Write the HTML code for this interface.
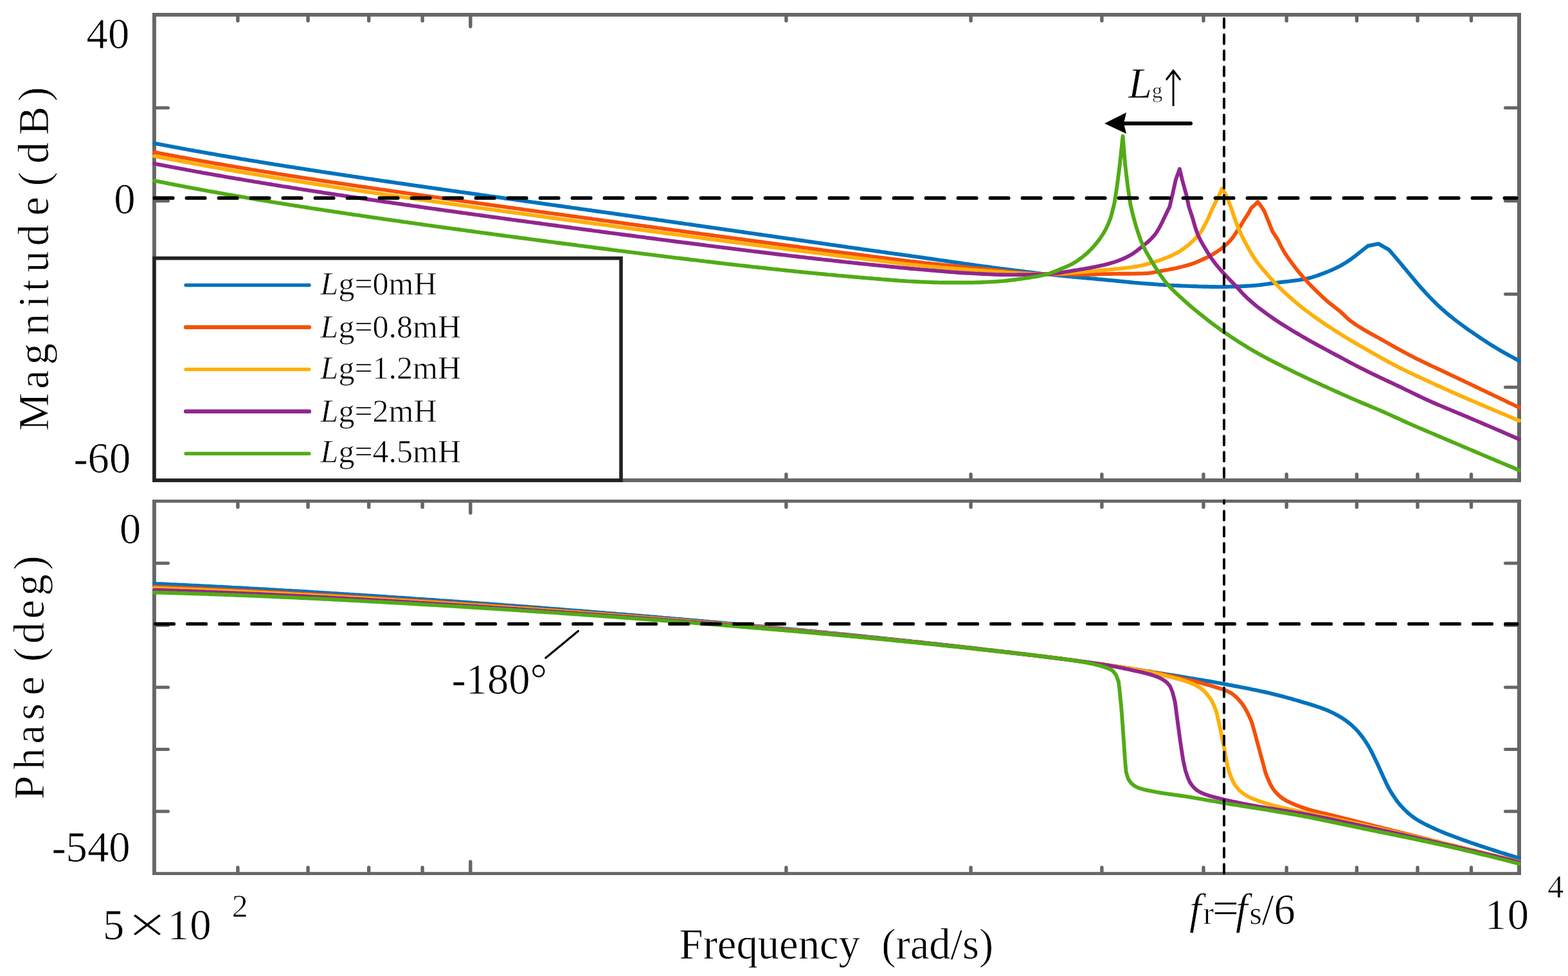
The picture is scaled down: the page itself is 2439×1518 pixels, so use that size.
<!DOCTYPE html>
<html lang="en"><head><meta charset="utf-8"><title>Bode diagram</title>
<style>html,body{margin:0;padding:0;background:#fff}body{width:2439px;height:1518px;overflow:hidden}svg{display:block}text{font-family:"Liberation Serif",serif;fill:#000;stroke:#fff;stroke-width:.7px}.i{font-style:italic}.lt{font-family:"DejaVu Sans Light","DejaVu Sans",sans-serif;font-weight:200;stroke:none}</style></head><body>
<svg xmlns="http://www.w3.org/2000/svg" width="2439" height="1518" viewBox="0 0 2439 1518">
<rect x="0" y="0" width="2439" height="1518" fill="#fff"/>
<g fill="none" stroke="#666666" stroke-linecap="round"><path stroke-width="5.4" d="M369.9 22.9V32.2M369.9 747.0V737.7M479.1 22.9V32.2M479.1 747.0V737.7M573.7 22.9V32.2M573.7 747.0V737.7M657.1 22.9V32.2M657.1 747.0V737.7M731.8 22.9V41.2M731.8 747.0V728.7M1222.9 22.9V32.2M1222.9 747.0V737.7M1510.1 22.9V32.2M1510.1 747.0V737.7M1713.9 22.9V32.2M1713.9 747.0V737.7M1872.0 22.9V32.2M1872.0 747.0V737.7M2001.2 22.9V32.2M2001.2 747.0V737.7M2110.4 22.9V32.2M2110.4 747.0V737.7M2205.0 22.9V32.2M2205.0 747.0V737.7M2288.5 22.9V32.2M2288.5 747.0V737.7"/><path stroke-width="5" d="M240.0 167.7H261.5M2363.0 167.7H2341.5M240.0 312.5H261.5M2363.0 312.5H2341.5M240.0 457.4H261.5M2363.0 457.4H2341.5M240.0 602.2H261.5M2363.0 602.2H2341.5"/></g>
<g fill="#666666"><rect x="237" y="20.00" width="5.9" height="729.90"/><rect x="2360" y="20.00" width="6" height="729.90"/><rect x="237" y="20.00" width="2129" height="5.80"/><rect x="237" y="744.10" width="2129" height="5.80"/></g>
<g fill="none" stroke="#666666" stroke-linecap="round"><path stroke-width="5.4" d="M369.9 779.5V788.8M369.9 1358.6V1349.3M479.1 779.5V788.8M479.1 1358.6V1349.3M573.7 779.5V788.8M573.7 1358.6V1349.3M657.1 779.5V788.8M657.1 1358.6V1349.3M731.8 779.5V797.8M731.8 1358.6V1340.3M1222.9 779.5V788.8M1222.9 1358.6V1349.3M1510.1 779.5V788.8M1510.1 1358.6V1349.3M1713.9 779.5V788.8M1713.9 1358.6V1349.3M1872.0 779.5V788.8M1872.0 1358.6V1349.3M2001.2 779.5V788.8M2001.2 1358.6V1349.3M2110.4 779.5V788.8M2110.4 1358.6V1349.3M2205.0 779.5V788.8M2205.0 1358.6V1349.3M2288.5 779.5V788.8M2288.5 1358.6V1349.3"/><path stroke-width="5" d="M240.0 876.0H261.5M2363.0 876.0H2341.5M240.0 972.5H261.5M2363.0 972.5H2341.5M240.0 1069.0H261.5M2363.0 1069.0H2341.5M240.0 1165.5H261.5M2363.0 1165.5H2341.5M240.0 1262.1H261.5M2363.0 1262.1H2341.5"/></g>
<g fill="#666666"><rect x="237" y="777.05" width="5.9" height="583.95"/><rect x="2360" y="777.05" width="6" height="583.95"/><rect x="237" y="777.05" width="2129" height="4.80"/><rect x="237" y="1356.20" width="2129" height="4.80"/></g>
<g fill="none" stroke-width="5.9" stroke-linejoin="round" stroke-linecap="round"><path stroke="#0072BD" d="M240.0 907.8L244.0 908.0L248.0 908.1L252.0 908.3L256.0 908.5L260.0 908.7L264.0 908.9L268.0 909.1L272.0 909.2L276.0 909.4L280.0 909.6L284.0 909.8L288.0 910.0L292.0 910.2L296.0 910.4L300.0 910.6L304.0 910.8L308.0 911.0L312.0 911.2L316.0 911.4L320.0 911.6L324.0 911.8L328.0 912.0L332.0 912.2L336.0 912.4L340.0 912.6L344.0 912.8L348.0 913.0L350.0 913.1L352.0 913.2L356.0 913.4L360.0 913.7L364.0 913.9L368.0 914.1L372.0 914.3L376.0 914.5L380.0 914.7L384.0 914.9L388.0 915.2L392.0 915.4L396.0 915.6L400.0 915.8L404.0 916.1L408.0 916.3L412.0 916.5L416.0 916.7L420.0 917.0L424.0 917.2L428.0 917.4L432.0 917.7L436.0 917.9L440.0 918.1L444.0 918.4L448.0 918.6L452.0 918.8L456.0 919.1L460.0 919.3L464.0 919.5L468.0 919.8L472.0 920.0L476.0 920.2L480.0 920.5L484.0 920.7L488.0 921.0L492.0 921.2L496.0 921.5L500.0 921.7L504.0 922.0L508.0 922.2L512.0 922.4L516.0 922.7L520.0 922.9L524.0 923.2L528.0 923.5L532.0 923.7L536.0 924.0L540.0 924.2L544.0 924.5L548.0 924.7L552.0 925.0L556.0 925.2L560.0 925.5L564.0 925.8L568.0 926.0L570.0 926.1L572.0 926.3L576.0 926.5L580.0 926.8L584.0 927.1L588.0 927.3L592.0 927.6L596.0 927.8L600.0 928.1L604.0 928.4L608.0 928.6L612.0 928.9L616.0 929.2L620.0 929.5L624.0 929.7L628.0 930.0L632.0 930.3L636.0 930.5L640.0 930.8L644.0 931.1L648.0 931.4L652.0 931.6L656.0 931.9L660.0 932.2L664.0 932.5L668.0 932.7L672.0 933.0L676.0 933.3L680.0 933.6L684.0 933.9L688.0 934.1L692.0 934.4L696.0 934.7L700.0 935.0L704.0 935.3L708.0 935.6L712.0 935.8L716.0 936.1L720.0 936.4L724.0 936.7L728.0 937.0L732.0 937.3L736.0 937.6L740.0 937.9L744.0 938.2L748.0 938.5L752.0 938.7L756.0 939.0L760.0 939.3L764.0 939.6L768.0 939.9L772.0 940.2L776.0 940.5L780.0 940.8L784.0 941.1L788.0 941.4L790.0 941.6L792.0 941.7L796.0 942.0L800.0 942.3L804.0 942.6L808.0 942.9L812.0 943.2L816.0 943.5L820.0 943.8L824.0 944.1L828.0 944.4L832.0 944.7L836.0 945.0L840.0 945.3L844.0 945.7L848.0 946.0L852.0 946.3L856.0 946.6L860.0 946.9L864.0 947.2L868.0 947.5L872.0 947.8L876.0 948.1L880.0 948.5L884.0 948.8L888.0 949.1L892.0 949.4L896.0 949.7L900.0 950.0L904.0 950.3L908.0 950.7L912.0 951.0L916.0 951.3L920.0 951.6L924.0 951.9L928.0 952.3L932.0 952.6L936.0 952.9L940.0 953.2L944.0 953.6L948.0 953.9L952.0 954.2L956.0 954.5L960.0 954.9L964.0 955.2L968.0 955.5L972.0 955.8L976.0 956.2L980.0 956.5L984.0 956.8L988.0 957.2L992.0 957.5L996.0 957.8L1000.0 958.2L1004.0 958.5L1008.0 958.8L1010.0 959.0L1012.0 959.2L1016.0 959.5L1020.0 959.8L1024.0 960.2L1028.0 960.5L1032.0 960.9L1036.0 961.2L1040.0 961.5L1044.0 961.9L1048.0 962.2L1052.0 962.6L1056.0 962.9L1060.0 963.2L1064.0 963.6L1068.0 963.9L1072.0 964.3L1076.0 964.6L1080.0 965.0L1084.0 965.3L1088.0 965.7L1092.0 966.0L1096.0 966.4L1100.0 966.7L1104.0 967.1L1108.0 967.4L1112.0 967.8L1116.0 968.1L1120.0 968.5L1124.0 968.9L1128.0 969.2L1132.0 969.6L1136.0 969.9L1140.0 970.3L1144.0 970.6L1148.0 971.0L1152.0 971.4L1156.0 971.7L1160.0 972.1L1164.0 972.5L1168.0 972.8L1172.0 973.2L1176.0 973.6L1180.0 973.9L1184.0 974.3L1188.0 974.7L1192.0 975.0L1196.0 975.4L1200.0 975.8L1204.0 976.1L1208.0 976.5L1212.0 976.9L1216.0 977.3L1220.0 977.6L1224.0 978.0L1228.0 978.4L1230.0 978.6L1232.0 978.8L1236.0 979.1L1240.0 979.5L1244.0 979.9L1248.0 980.3L1252.0 980.7L1256.0 981.1L1260.0 981.4L1264.0 981.8L1268.0 982.2L1272.0 982.6L1276.0 983.0L1280.0 983.4L1284.0 983.8L1288.0 984.2L1292.0 984.6L1296.0 984.9L1300.0 985.3L1304.0 985.7L1308.0 986.1L1312.0 986.5L1316.0 986.9L1320.0 987.3L1324.0 987.7L1328.0 988.1L1332.0 988.5L1336.0 988.9L1340.0 989.3L1344.0 989.7L1348.0 990.2L1352.0 990.6L1356.0 991.0L1360.0 991.4L1364.0 991.8L1368.0 992.2L1372.0 992.6L1376.0 993.0L1380.0 993.4L1384.0 993.9L1388.0 994.3L1392.0 994.7L1396.0 995.1L1400.0 995.5L1404.0 996.0L1408.0 996.4L1412.0 996.8L1416.0 997.2L1420.0 997.7L1424.0 998.1L1428.0 998.5L1432.0 998.9L1436.0 999.4L1440.0 999.8L1444.0 1000.2L1448.0 1000.7L1450.0 1000.9L1452.0 1001.1L1456.0 1001.5L1460.0 1002.0L1464.0 1002.4L1468.0 1002.9L1472.0 1003.3L1476.0 1003.8L1480.0 1004.2L1484.0 1004.6L1488.0 1005.1L1492.0 1005.5L1496.0 1006.0L1500.0 1006.4L1504.0 1006.9L1508.0 1007.3L1512.0 1007.8L1516.0 1008.3L1520.0 1008.7L1524.0 1009.2L1528.0 1009.6L1532.0 1010.1L1536.0 1010.6L1540.0 1011.0L1544.0 1011.5L1548.0 1012.0L1552.0 1012.4L1556.0 1012.9L1560.0 1013.4L1564.0 1013.9L1568.0 1014.3L1572.0 1014.8L1576.0 1015.3L1580.0 1015.7L1584.0 1016.2L1588.0 1016.7L1592.0 1017.2L1596.0 1017.7L1600.0 1018.1L1604.0 1018.6L1608.0 1019.1L1612.0 1019.6L1616.0 1020.1L1620.0 1020.6L1624.0 1021.1L1628.0 1021.6L1632.0 1022.1L1636.0 1022.6L1640.0 1023.1L1644.0 1023.6L1648.0 1024.1L1652.0 1024.6L1656.0 1025.1L1660.0 1025.7L1664.0 1026.2L1668.0 1026.7L1670.0 1027.0L1672.0 1027.3L1676.0 1027.8L1680.0 1028.4L1684.0 1028.9L1688.0 1029.5L1692.0 1030.0L1696.0 1030.6L1700.0 1031.2L1704.0 1031.8L1708.0 1032.3L1712.0 1032.9L1716.0 1033.5L1720.0 1034.1L1724.0 1034.7L1728.0 1035.3L1732.0 1035.9L1736.0 1036.5L1740.0 1037.1L1744.0 1037.7L1748.0 1038.3L1752.0 1038.9L1756.0 1039.5L1760.0 1040.2L1764.0 1040.8L1768.0 1041.4L1772.0 1042.0L1776.0 1042.7L1780.0 1043.3L1784.0 1043.9L1788.0 1044.5L1792.0 1045.2L1796.0 1045.8L1800.0 1046.4L1800.4 1046.5L1804.0 1047.1L1808.0 1047.7L1812.0 1048.3L1816.0 1049.0L1820.0 1049.6L1824.0 1050.2L1828.0 1050.9L1832.0 1051.5L1836.0 1052.2L1840.0 1052.8L1844.0 1053.5L1848.0 1054.1L1852.0 1054.8L1856.0 1055.4L1860.0 1056.1L1864.0 1056.8L1868.0 1057.4L1872.0 1058.1L1876.0 1058.8L1880.0 1059.5L1884.0 1060.2L1888.0 1060.9L1892.0 1061.6L1896.0 1062.3L1900.0 1063.0L1904.0 1063.8L1904.1 1063.8L1908.0 1064.5L1912.0 1065.3L1916.0 1066.0L1920.0 1066.8L1924.0 1067.5L1928.0 1068.3L1932.0 1069.1L1936.0 1069.8L1940.0 1070.6L1944.0 1071.4L1948.0 1072.3L1952.0 1073.1L1956.0 1073.9L1960.0 1074.8L1964.0 1075.6L1968.0 1076.5L1972.0 1077.4L1976.0 1078.4L1980.0 1079.3L1984.0 1080.3L1988.0 1081.3L1992.0 1082.3L1996.0 1083.4L2000.0 1084.5L2004.0 1085.6L2008.0 1086.7L2012.0 1087.9L2016.0 1089.0L2020.0 1090.2L2023.7 1091.3L2024.0 1091.4L2028.0 1092.6L2032.0 1093.7L2036.0 1094.9L2040.0 1096.1L2044.0 1097.4L2048.0 1098.7L2052.0 1100.0L2056.0 1101.5L2060.0 1103.0L2060.8 1103.3L2064.0 1104.6L2068.0 1106.3L2072.0 1108.2L2076.0 1110.2L2080.0 1112.3L2084.0 1114.6L2087.0 1116.4L2088.0 1117.0L2092.0 1119.7L2096.0 1122.6L2100.0 1125.8L2104.0 1129.3L2108.0 1133.1L2108.8 1133.9L2112.0 1137.3L2116.0 1142.1L2120.0 1147.4L2124.0 1153.2L2128.0 1159.5L2128.4 1160.1L2132.0 1166.4L2136.0 1174.4L2140.0 1182.8L2143.7 1190.6L2144.0 1191.2L2148.0 1199.9L2152.0 1208.9L2156.0 1217.6L2160.0 1225.6L2161.2 1227.7L2164.0 1232.4L2168.0 1238.7L2172.0 1244.5L2176.0 1249.8L2178.6 1252.8L2180.0 1254.3L2184.0 1258.5L2188.0 1262.4L2192.0 1266.0L2196.0 1269.2L2200.0 1272.2L2200.5 1272.5L2204.0 1274.8L2208.0 1277.2L2212.0 1279.4L2216.0 1281.5L2220.0 1283.5L2224.0 1285.4L2226.7 1286.7L2228.0 1287.3L2232.0 1289.1L2236.0 1290.9L2240.0 1292.6L2244.0 1294.3L2248.0 1295.9L2252.0 1297.5L2256.0 1299.0L2260.0 1300.6L2263.8 1302.0L2264.0 1302.1L2268.0 1303.6L2272.0 1305.0L2276.0 1306.5L2280.0 1307.9L2284.0 1309.3L2288.0 1310.7L2292.0 1312.0L2296.0 1313.4L2300.0 1314.7L2304.0 1316.1L2307.4 1317.2L2308.0 1317.4L2312.0 1318.7L2316.0 1320.0L2320.0 1321.3L2324.0 1322.6L2328.0 1323.9L2332.0 1325.2L2336.0 1326.5L2340.0 1327.7L2344.0 1328.9L2348.0 1330.2L2352.0 1331.4L2356.0 1332.6L2360.0 1333.8L2363.0 1334.7"/><path stroke="#F5500A" d="M240.0 912.5L244.0 912.7L248.0 912.9L252.0 913.0L256.0 913.2L260.0 913.3L264.0 913.5L268.0 913.7L272.0 913.8L276.0 914.0L280.0 914.2L284.0 914.3L288.0 914.5L292.0 914.7L296.0 914.8L300.0 915.0L304.0 915.2L308.0 915.4L312.0 915.5L316.0 915.7L320.0 915.9L324.0 916.1L328.0 916.3L332.0 916.4L336.0 916.6L340.0 916.8L344.0 917.0L348.0 917.2L350.0 917.3L352.0 917.4L356.0 917.6L360.0 917.8L364.0 917.9L368.0 918.1L372.0 918.3L376.0 918.5L380.0 918.7L384.0 918.9L388.0 919.1L392.0 919.3L396.0 919.5L400.0 919.7L404.0 919.9L408.0 920.1L412.0 920.4L416.0 920.6L420.0 920.8L424.0 921.0L428.0 921.2L432.0 921.4L436.0 921.6L440.0 921.8L444.0 922.0L448.0 922.3L452.0 922.5L456.0 922.7L460.0 922.9L464.0 923.1L468.0 923.3L472.0 923.6L476.0 923.8L480.0 924.0L484.0 924.2L488.0 924.5L492.0 924.7L496.0 924.9L500.0 925.1L504.0 925.4L508.0 925.6L512.0 925.8L516.0 926.1L520.0 926.3L524.0 926.5L528.0 926.8L532.0 927.0L536.0 927.2L540.0 927.5L544.0 927.7L548.0 928.0L552.0 928.2L556.0 928.4L560.0 928.7L564.0 928.9L568.0 929.2L570.0 929.3L572.0 929.4L576.0 929.7L580.0 929.9L584.0 930.1L588.0 930.4L592.0 930.6L596.0 930.9L600.0 931.1L604.0 931.4L608.0 931.6L612.0 931.9L616.0 932.2L620.0 932.4L624.0 932.7L628.0 932.9L632.0 933.2L636.0 933.4L640.0 933.7L644.0 933.9L648.0 934.2L652.0 934.5L656.0 934.7L660.0 935.0L664.0 935.3L668.0 935.5L672.0 935.8L676.0 936.0L680.0 936.3L684.0 936.6L688.0 936.8L692.0 937.1L696.0 937.4L700.0 937.6L704.0 937.9L708.0 938.2L712.0 938.5L716.0 938.7L720.0 939.0L724.0 939.3L728.0 939.6L732.0 939.8L736.0 940.1L740.0 940.4L744.0 940.7L748.0 940.9L752.0 941.2L756.0 941.5L760.0 941.8L764.0 942.1L768.0 942.3L772.0 942.6L776.0 942.9L780.0 943.2L784.0 943.5L788.0 943.7L790.0 943.9L792.0 944.0L796.0 944.3L800.0 944.6L804.0 944.9L808.0 945.2L812.0 945.5L816.0 945.8L820.0 946.0L824.0 946.3L828.0 946.6L832.0 946.9L836.0 947.2L840.0 947.5L844.0 947.8L848.0 948.1L852.0 948.4L856.0 948.7L860.0 949.0L864.0 949.3L868.0 949.6L872.0 949.9L876.0 950.2L880.0 950.5L884.0 950.8L888.0 951.1L892.0 951.4L896.0 951.7L900.0 952.0L904.0 952.3L908.0 952.6L912.0 952.9L916.0 953.2L920.0 953.5L924.0 953.8L928.0 954.1L932.0 954.4L936.0 954.8L940.0 955.1L944.0 955.4L948.0 955.7L952.0 956.0L956.0 956.3L960.0 956.6L964.0 956.9L968.0 957.3L972.0 957.6L976.0 957.9L980.0 958.2L984.0 958.5L988.0 958.8L992.0 959.2L996.0 959.5L1000.0 959.8L1004.0 960.1L1008.0 960.4L1010.0 960.6L1012.0 960.8L1016.0 961.1L1020.0 961.4L1024.0 961.7L1028.0 962.1L1032.0 962.4L1036.0 962.7L1040.0 963.1L1044.0 963.4L1048.0 963.7L1052.0 964.0L1056.0 964.4L1060.0 964.7L1064.0 965.0L1068.0 965.4L1072.0 965.7L1076.0 966.0L1080.0 966.4L1084.0 966.7L1088.0 967.0L1092.0 967.4L1096.0 967.7L1100.0 968.1L1104.0 968.4L1108.0 968.7L1112.0 969.1L1116.0 969.4L1120.0 969.8L1124.0 970.1L1128.0 970.4L1132.0 970.8L1136.0 971.1L1140.0 971.5L1144.0 971.8L1148.0 972.2L1152.0 972.5L1156.0 972.9L1160.0 973.2L1164.0 973.6L1168.0 973.9L1172.0 974.3L1176.0 974.6L1180.0 975.0L1184.0 975.4L1188.0 975.7L1192.0 976.1L1196.0 976.4L1200.0 976.8L1204.0 977.2L1208.0 977.5L1212.0 977.9L1216.0 978.2L1220.0 978.6L1224.0 979.0L1228.0 979.3L1230.0 979.5L1232.0 979.7L1236.0 980.1L1240.0 980.4L1244.0 980.8L1248.0 981.2L1252.0 981.6L1256.0 981.9L1260.0 982.3L1264.0 982.7L1268.0 983.1L1272.0 983.4L1276.0 983.8L1280.0 984.2L1284.0 984.6L1288.0 984.9L1292.0 985.3L1296.0 985.7L1300.0 986.1L1304.0 986.5L1308.0 986.9L1312.0 987.3L1316.0 987.6L1320.0 988.0L1324.0 988.4L1328.0 988.8L1332.0 989.2L1336.0 989.6L1340.0 990.0L1344.0 990.4L1348.0 990.8L1352.0 991.2L1356.0 991.6L1360.0 992.0L1364.0 992.4L1368.0 992.8L1372.0 993.2L1376.0 993.6L1380.0 994.0L1384.0 994.4L1388.0 994.8L1392.0 995.2L1396.0 995.6L1400.0 996.0L1404.0 996.5L1408.0 996.9L1412.0 997.3L1416.0 997.7L1420.0 998.1L1424.0 998.5L1428.0 999.0L1432.0 999.4L1436.0 999.8L1440.0 1000.2L1444.0 1000.6L1448.0 1001.1L1450.0 1001.3L1452.0 1001.5L1456.0 1001.9L1460.0 1002.4L1464.0 1002.8L1468.0 1003.2L1472.0 1003.7L1476.0 1004.1L1480.0 1004.5L1484.0 1005.0L1488.0 1005.4L1492.0 1005.9L1496.0 1006.3L1500.0 1006.7L1504.0 1007.2L1508.0 1007.6L1512.0 1008.1L1516.0 1008.5L1520.0 1009.0L1524.0 1009.4L1528.0 1009.9L1532.0 1010.4L1536.0 1010.8L1540.0 1011.3L1544.0 1011.7L1548.0 1012.2L1552.0 1012.7L1556.0 1013.1L1560.0 1013.6L1564.0 1014.1L1568.0 1014.5L1572.0 1015.0L1576.0 1015.5L1580.0 1015.9L1584.0 1016.4L1588.0 1016.9L1592.0 1017.3L1596.0 1017.8L1600.0 1018.3L1604.0 1018.8L1608.0 1019.2L1612.0 1019.7L1616.0 1020.2L1620.0 1020.7L1624.0 1021.2L1628.0 1021.7L1632.0 1022.2L1636.0 1022.7L1640.0 1023.2L1644.0 1023.7L1648.0 1024.2L1652.0 1024.7L1656.0 1025.2L1660.0 1025.8L1664.0 1026.3L1668.0 1026.8L1670.0 1027.1L1672.0 1027.4L1676.0 1027.9L1680.0 1028.4L1684.0 1029.0L1688.0 1029.5L1692.0 1030.1L1696.0 1030.6L1700.0 1031.2L1704.0 1031.8L1708.0 1032.3L1712.0 1032.9L1716.0 1033.5L1720.0 1034.0L1724.0 1034.6L1728.0 1035.2L1732.0 1035.8L1736.0 1036.4L1740.0 1037.0L1744.0 1037.6L1748.0 1038.2L1752.0 1038.8L1756.0 1039.4L1760.0 1040.1L1764.0 1040.7L1768.0 1041.4L1772.0 1042.0L1776.0 1042.7L1780.0 1043.4L1784.0 1044.1L1788.0 1044.8L1792.0 1045.5L1796.0 1046.2L1800.0 1046.9L1800.4 1047.0L1804.0 1047.7L1808.0 1048.4L1812.0 1049.2L1816.0 1050.1L1820.0 1050.9L1824.0 1051.8L1828.0 1052.6L1832.0 1053.5L1836.0 1054.5L1840.0 1055.4L1844.0 1056.3L1848.0 1057.3L1849.8 1057.7L1852.0 1058.2L1856.0 1059.2L1860.0 1060.2L1864.0 1061.2L1868.0 1062.2L1872.0 1063.3L1876.0 1064.3L1880.0 1065.5L1884.0 1066.6L1886.8 1067.5L1888.0 1067.9L1892.0 1069.1L1896.0 1070.3L1900.0 1071.5L1904.0 1072.9L1908.0 1074.5L1912.0 1076.4L1914.0 1077.4L1916.0 1078.6L1920.0 1081.6L1924.0 1085.3L1928.0 1089.7L1931.2 1093.5L1932.0 1094.5L1936.0 1100.4L1940.0 1107.5L1944.0 1115.9L1946.0 1120.6L1948.0 1126.2L1952.0 1140.5L1955.9 1155.2L1956.0 1155.6L1960.0 1170.2L1963.3 1182.3L1964.0 1184.9L1968.0 1200.0L1969.5 1204.6L1972.0 1211.0L1976.0 1219.8L1980.0 1226.7L1980.6 1227.5L1984.0 1231.8L1988.0 1236.0L1992.0 1239.5L1995.4 1242.0L1996.0 1242.4L2000.0 1244.8L2004.0 1246.9L2008.0 1248.8L2012.0 1250.5L2014.9 1251.7L2016.0 1252.2L2020.0 1253.7L2024.0 1255.2L2028.0 1256.6L2032.0 1257.9L2036.0 1259.2L2036.8 1259.4L2040.0 1260.3L2044.0 1261.4L2048.0 1262.4L2052.0 1263.4L2056.0 1264.3L2060.0 1265.2L2064.0 1266.2L2067.3 1267.0L2068.0 1267.2L2072.0 1268.2L2076.0 1269.2L2080.0 1270.2L2084.0 1271.2L2088.0 1272.2L2092.0 1273.2L2096.0 1274.2L2100.0 1275.2L2104.0 1276.2L2108.0 1277.2L2111.0 1277.9L2112.0 1278.1L2116.0 1279.1L2120.0 1280.1L2124.0 1281.1L2128.0 1282.1L2132.0 1283.1L2136.0 1284.1L2140.0 1285.1L2144.0 1286.1L2148.0 1287.1L2152.0 1288.1L2156.0 1289.1L2160.0 1290.1L2164.0 1291.1L2168.0 1292.1L2172.0 1293.1L2176.0 1294.1L2180.0 1295.1L2184.0 1296.1L2188.0 1297.1L2192.0 1298.1L2196.0 1299.1L2200.0 1300.1L2204.0 1301.1L2208.0 1302.1L2212.0 1303.1L2216.0 1304.1L2220.0 1305.1L2224.0 1306.1L2228.0 1307.1L2232.0 1308.1L2236.0 1309.0L2240.0 1310.0L2241.9 1310.5L2244.0 1311.0L2248.0 1312.0L2252.0 1313.0L2256.0 1314.0L2260.0 1314.9L2264.0 1315.9L2268.0 1316.9L2272.0 1317.9L2276.0 1318.9L2280.0 1319.9L2284.0 1320.8L2288.0 1321.8L2292.0 1322.8L2296.0 1323.8L2300.0 1324.7L2304.0 1325.7L2308.0 1326.7L2312.0 1327.7L2316.0 1328.6L2320.0 1329.6L2324.0 1330.6L2328.0 1331.5L2332.0 1332.5L2336.0 1333.5L2340.0 1334.4L2344.0 1335.4L2348.0 1336.4L2352.0 1337.3L2356.0 1338.3L2360.0 1339.3L2363.0 1340.0"/><path stroke="#FFAF0A" d="M240.0 914.6L244.0 914.7L248.0 914.9L252.0 915.0L256.0 915.2L260.0 915.3L264.0 915.5L268.0 915.6L272.0 915.8L276.0 915.9L280.0 916.1L284.0 916.3L288.0 916.4L292.0 916.6L296.0 916.7L300.0 916.9L304.0 917.1L308.0 917.2L312.0 917.4L316.0 917.6L320.0 917.7L324.0 917.9L328.0 918.1L332.0 918.3L336.0 918.4L340.0 918.6L344.0 918.8L348.0 919.0L350.0 919.0L352.0 919.1L356.0 919.3L360.0 919.5L364.0 919.7L368.0 919.9L372.0 920.1L376.0 920.2L380.0 920.4L384.0 920.6L388.0 920.8L392.0 921.0L396.0 921.2L400.0 921.4L404.0 921.6L408.0 921.8L412.0 922.0L416.0 922.2L420.0 922.4L424.0 922.6L428.0 922.8L432.0 923.0L436.0 923.2L440.0 923.4L444.0 923.6L448.0 923.8L452.0 924.0L456.0 924.3L460.0 924.5L464.0 924.7L468.0 924.9L472.0 925.1L476.0 925.3L480.0 925.5L484.0 925.7L488.0 926.0L492.0 926.2L496.0 926.4L500.0 926.6L504.0 926.8L508.0 927.1L512.0 927.3L516.0 927.5L520.0 927.7L524.0 928.0L528.0 928.2L532.0 928.4L536.0 928.7L540.0 928.9L544.0 929.1L548.0 929.4L552.0 929.6L556.0 929.8L560.0 930.1L564.0 930.3L568.0 930.5L570.0 930.6L572.0 930.8L576.0 931.0L580.0 931.2L584.0 931.5L588.0 931.7L592.0 932.0L596.0 932.2L600.0 932.4L604.0 932.7L608.0 932.9L612.0 933.2L616.0 933.4L620.0 933.7L624.0 933.9L628.0 934.2L632.0 934.4L636.0 934.7L640.0 934.9L644.0 935.2L648.0 935.4L652.0 935.7L656.0 935.9L660.0 936.2L664.0 936.4L668.0 936.7L672.0 937.0L676.0 937.2L680.0 937.5L684.0 937.7L688.0 938.0L692.0 938.3L696.0 938.5L700.0 938.8L704.0 939.0L708.0 939.3L712.0 939.6L716.0 939.8L720.0 940.1L724.0 940.4L728.0 940.6L732.0 940.9L736.0 941.2L740.0 941.4L744.0 941.7L748.0 942.0L752.0 942.3L756.0 942.5L760.0 942.8L764.0 943.1L768.0 943.4L772.0 943.6L776.0 943.9L780.0 944.2L784.0 944.5L788.0 944.8L790.0 944.9L792.0 945.0L796.0 945.3L800.0 945.6L804.0 945.9L808.0 946.2L812.0 946.4L816.0 946.7L820.0 947.0L824.0 947.3L828.0 947.6L832.0 947.9L836.0 948.1L840.0 948.4L844.0 948.7L848.0 949.0L852.0 949.3L856.0 949.6L860.0 949.9L864.0 950.2L868.0 950.5L872.0 950.8L876.0 951.1L880.0 951.3L884.0 951.6L888.0 951.9L892.0 952.2L896.0 952.5L900.0 952.8L904.0 953.1L908.0 953.4L912.0 953.7L916.0 954.0L920.0 954.3L924.0 954.6L928.0 954.9L932.0 955.2L936.0 955.5L940.0 955.8L944.0 956.1L948.0 956.5L952.0 956.8L956.0 957.1L960.0 957.4L964.0 957.7L968.0 958.0L972.0 958.3L976.0 958.6L980.0 958.9L984.0 959.2L988.0 959.6L992.0 959.9L996.0 960.2L1000.0 960.5L1004.0 960.8L1008.0 961.1L1010.0 961.3L1012.0 961.4L1016.0 961.8L1020.0 962.1L1024.0 962.4L1028.0 962.7L1032.0 963.0L1036.0 963.4L1040.0 963.7L1044.0 964.0L1048.0 964.3L1052.0 964.7L1056.0 965.0L1060.0 965.3L1064.0 965.6L1068.0 966.0L1072.0 966.3L1076.0 966.6L1080.0 967.0L1084.0 967.3L1088.0 967.6L1092.0 968.0L1096.0 968.3L1100.0 968.6L1104.0 969.0L1108.0 969.3L1112.0 969.6L1116.0 970.0L1120.0 970.3L1124.0 970.6L1128.0 971.0L1132.0 971.3L1136.0 971.7L1140.0 972.0L1144.0 972.3L1148.0 972.7L1152.0 973.0L1156.0 973.4L1160.0 973.7L1164.0 974.1L1168.0 974.4L1172.0 974.8L1176.0 975.1L1180.0 975.5L1184.0 975.8L1188.0 976.2L1192.0 976.5L1196.0 976.9L1200.0 977.2L1204.0 977.6L1208.0 978.0L1212.0 978.3L1216.0 978.7L1220.0 979.0L1224.0 979.4L1228.0 979.7L1230.0 979.9L1232.0 980.1L1236.0 980.5L1240.0 980.8L1244.0 981.2L1248.0 981.6L1252.0 981.9L1256.0 982.3L1260.0 982.7L1264.0 983.0L1268.0 983.4L1272.0 983.8L1276.0 984.2L1280.0 984.5L1284.0 984.9L1288.0 985.3L1292.0 985.7L1296.0 986.0L1300.0 986.4L1304.0 986.8L1308.0 987.2L1312.0 987.6L1316.0 987.9L1320.0 988.3L1324.0 988.7L1328.0 989.1L1332.0 989.5L1336.0 989.9L1340.0 990.3L1344.0 990.7L1348.0 991.0L1352.0 991.4L1356.0 991.8L1360.0 992.2L1364.0 992.6L1368.0 993.0L1372.0 993.4L1376.0 993.8L1380.0 994.2L1384.0 994.6L1388.0 995.0L1392.0 995.4L1396.0 995.8L1400.0 996.2L1404.0 996.7L1408.0 997.1L1412.0 997.5L1416.0 997.9L1420.0 998.3L1424.0 998.7L1428.0 999.1L1432.0 999.6L1436.0 1000.0L1440.0 1000.4L1444.0 1000.8L1448.0 1001.2L1450.0 1001.5L1452.0 1001.7L1456.0 1002.1L1460.0 1002.5L1464.0 1002.9L1468.0 1003.4L1472.0 1003.8L1476.0 1004.2L1480.0 1004.7L1484.0 1005.1L1488.0 1005.5L1492.0 1006.0L1496.0 1006.4L1500.0 1006.9L1504.0 1007.3L1508.0 1007.8L1512.0 1008.2L1516.0 1008.6L1520.0 1009.1L1524.0 1009.5L1528.0 1010.0L1532.0 1010.5L1536.0 1010.9L1540.0 1011.4L1544.0 1011.8L1548.0 1012.3L1552.0 1012.7L1556.0 1013.2L1560.0 1013.7L1564.0 1014.1L1568.0 1014.6L1572.0 1015.1L1576.0 1015.5L1580.0 1016.0L1584.0 1016.5L1588.0 1016.9L1592.0 1017.4L1596.0 1017.9L1600.0 1018.3L1604.0 1018.8L1608.0 1019.3L1612.0 1019.8L1616.0 1020.2L1620.0 1020.7L1624.0 1021.2L1628.0 1021.7L1632.0 1022.2L1636.0 1022.7L1640.0 1023.2L1644.0 1023.7L1648.0 1024.2L1652.0 1024.7L1656.0 1025.3L1660.0 1025.8L1664.0 1026.3L1668.0 1026.9L1670.0 1027.1L1672.0 1027.4L1676.0 1027.9L1680.0 1028.5L1684.0 1029.0L1688.0 1029.6L1692.0 1030.1L1696.0 1030.7L1700.0 1031.2L1704.0 1031.8L1708.0 1032.3L1712.0 1032.9L1716.0 1033.5L1720.0 1034.1L1724.0 1034.6L1728.0 1035.2L1732.0 1035.8L1736.0 1036.4L1740.0 1037.0L1744.0 1037.7L1748.0 1038.3L1752.0 1038.9L1756.0 1039.6L1760.0 1040.3L1764.0 1040.9L1768.0 1041.6L1772.0 1042.3L1776.0 1043.1L1780.0 1043.8L1784.0 1044.5L1788.0 1045.3L1792.0 1046.1L1796.0 1046.9L1800.0 1047.8L1804.0 1048.7L1808.0 1049.7L1812.0 1050.6L1816.0 1051.6L1820.0 1052.7L1824.0 1053.7L1825.1 1054.0L1828.0 1054.8L1832.0 1055.8L1836.0 1056.9L1840.0 1058.1L1844.0 1059.4L1848.0 1060.7L1849.8 1061.4L1852.0 1062.3L1856.0 1063.9L1860.0 1065.9L1864.0 1068.1L1867.0 1070.0L1868.0 1070.7L1872.0 1073.9L1876.0 1078.0L1880.0 1082.8L1880.6 1083.6L1884.0 1088.7L1888.0 1096.5L1891.7 1105.8L1892.0 1106.7L1896.0 1123.9L1897.9 1133.0L1900.0 1142.7L1904.0 1162.1L1904.1 1162.6L1908.0 1184.6L1910.2 1194.7L1912.0 1200.6L1916.0 1211.5L1920.0 1219.2L1920.1 1219.4L1924.0 1224.9L1928.0 1229.4L1932.0 1232.9L1933.7 1234.2L1936.0 1235.7L1940.0 1238.1L1944.0 1240.1L1948.0 1241.9L1952.0 1243.5L1953.5 1244.1L1956.0 1245.1L1960.0 1246.5L1964.0 1247.8L1968.0 1249.1L1972.0 1250.3L1976.0 1251.4L1980.0 1252.5L1984.0 1253.6L1985.6 1254.0L1988.0 1254.6L1992.0 1255.6L1996.0 1256.5L2000.0 1257.4L2004.0 1258.3L2008.0 1259.2L2012.0 1260.0L2016.0 1260.9L2020.0 1261.7L2024.0 1262.5L2028.0 1263.4L2030.0 1263.8L2032.0 1264.2L2036.0 1265.1L2040.0 1266.0L2044.0 1266.8L2048.0 1267.6L2052.0 1268.5L2056.0 1269.3L2060.0 1270.2L2064.0 1271.0L2068.0 1271.8L2072.0 1272.7L2076.0 1273.5L2080.0 1274.4L2084.0 1275.2L2088.0 1276.0L2092.0 1276.9L2096.0 1277.8L2100.0 1278.6L2104.0 1279.5L2108.0 1280.3L2111.0 1281.0L2112.0 1281.2L2116.0 1282.1L2120.0 1283.0L2124.0 1283.9L2128.0 1284.8L2132.0 1285.7L2136.0 1286.5L2140.0 1287.4L2144.0 1288.3L2148.0 1289.2L2152.0 1290.2L2156.0 1291.1L2160.0 1292.0L2164.0 1292.9L2168.0 1293.8L2172.0 1294.7L2176.0 1295.6L2180.0 1296.5L2184.0 1297.5L2188.0 1298.4L2192.0 1299.3L2196.0 1300.2L2200.0 1301.2L2204.0 1302.1L2208.0 1303.0L2212.0 1304.0L2216.0 1304.9L2220.0 1305.8L2224.0 1306.8L2228.0 1307.7L2232.0 1308.7L2236.0 1309.6L2240.0 1310.6L2241.9 1311.0L2244.0 1311.5L2248.0 1312.4L2252.0 1313.4L2256.0 1314.3L2260.0 1315.3L2264.0 1316.3L2268.0 1317.2L2272.0 1318.2L2276.0 1319.1L2280.0 1320.1L2284.0 1321.1L2288.0 1322.0L2292.0 1323.0L2296.0 1324.0L2300.0 1324.9L2304.0 1325.9L2308.0 1326.9L2312.0 1327.9L2316.0 1328.8L2320.0 1329.8L2324.0 1330.8L2328.0 1331.8L2332.0 1332.8L2336.0 1333.8L2340.0 1334.8L2344.0 1335.8L2348.0 1336.8L2352.0 1337.8L2356.0 1338.7L2360.0 1339.7L2363.0 1340.5"/><path stroke="#91268F" d="M240.0 917.6L244.0 917.7L248.0 917.9L252.0 918.0L256.0 918.1L260.0 918.3L264.0 918.4L268.0 918.5L272.0 918.7L276.0 918.8L280.0 919.0L284.0 919.1L288.0 919.2L292.0 919.4L296.0 919.5L300.0 919.7L304.0 919.8L308.0 920.0L312.0 920.1L316.0 920.3L320.0 920.5L324.0 920.6L328.0 920.8L332.0 920.9L336.0 921.1L340.0 921.3L344.0 921.4L348.0 921.6L350.0 921.7L352.0 921.7L356.0 921.9L360.0 922.1L364.0 922.2L368.0 922.4L372.0 922.6L376.0 922.8L380.0 922.9L384.0 923.1L388.0 923.3L392.0 923.5L396.0 923.7L400.0 923.8L404.0 924.0L408.0 924.2L412.0 924.4L416.0 924.6L420.0 924.8L424.0 925.0L428.0 925.2L432.0 925.4L436.0 925.6L440.0 925.7L444.0 925.9L448.0 926.1L452.0 926.3L456.0 926.5L460.0 926.7L464.0 926.9L468.0 927.1L472.0 927.3L476.0 927.5L480.0 927.7L484.0 927.9L488.0 928.2L492.0 928.4L496.0 928.6L500.0 928.8L504.0 929.0L508.0 929.2L512.0 929.4L516.0 929.6L520.0 929.8L524.0 930.1L528.0 930.3L532.0 930.5L536.0 930.7L540.0 930.9L544.0 931.2L548.0 931.4L552.0 931.6L556.0 931.8L560.0 932.1L564.0 932.3L568.0 932.5L570.0 932.6L572.0 932.7L576.0 933.0L580.0 933.2L584.0 933.4L588.0 933.6L592.0 933.9L596.0 934.1L600.0 934.3L604.0 934.6L608.0 934.8L612.0 935.1L616.0 935.3L620.0 935.5L624.0 935.8L628.0 936.0L632.0 936.2L636.0 936.5L640.0 936.7L644.0 937.0L648.0 937.2L652.0 937.5L656.0 937.7L660.0 938.0L664.0 938.2L668.0 938.4L672.0 938.7L676.0 938.9L680.0 939.2L684.0 939.4L688.0 939.7L692.0 939.9L696.0 940.2L700.0 940.4L704.0 940.7L708.0 941.0L712.0 941.2L716.0 941.5L720.0 941.7L724.0 942.0L728.0 942.2L732.0 942.5L736.0 942.8L740.0 943.0L744.0 943.3L748.0 943.5L752.0 943.8L756.0 944.1L760.0 944.3L764.0 944.6L768.0 944.9L772.0 945.1L776.0 945.4L780.0 945.7L784.0 945.9L788.0 946.2L790.0 946.4L792.0 946.5L796.0 946.8L800.0 947.0L804.0 947.3L808.0 947.6L812.0 947.8L816.0 948.1L820.0 948.4L824.0 948.7L828.0 949.0L832.0 949.2L836.0 949.5L840.0 949.8L844.0 950.1L848.0 950.3L852.0 950.6L856.0 950.9L860.0 951.2L864.0 951.5L868.0 951.8L872.0 952.0L876.0 952.3L880.0 952.6L884.0 952.9L888.0 953.2L892.0 953.5L896.0 953.8L900.0 954.1L904.0 954.4L908.0 954.6L912.0 954.9L916.0 955.2L920.0 955.5L924.0 955.8L928.0 956.1L932.0 956.4L936.0 956.7L940.0 957.0L944.0 957.3L948.0 957.6L952.0 957.9L956.0 958.2L960.0 958.5L964.0 958.8L968.0 959.1L972.0 959.4L976.0 959.7L980.0 960.0L984.0 960.3L988.0 960.6L992.0 960.9L996.0 961.2L1000.0 961.5L1004.0 961.8L1008.0 962.1L1010.0 962.3L1012.0 962.5L1016.0 962.8L1020.0 963.1L1024.0 963.4L1028.0 963.7L1032.0 964.0L1036.0 964.3L1040.0 964.6L1044.0 965.0L1048.0 965.3L1052.0 965.6L1056.0 965.9L1060.0 966.2L1064.0 966.5L1068.0 966.9L1072.0 967.2L1076.0 967.5L1080.0 967.8L1084.0 968.2L1088.0 968.5L1092.0 968.8L1096.0 969.1L1100.0 969.5L1104.0 969.8L1108.0 970.1L1112.0 970.4L1116.0 970.8L1120.0 971.1L1124.0 971.4L1128.0 971.8L1132.0 972.1L1136.0 972.4L1140.0 972.8L1144.0 973.1L1148.0 973.4L1152.0 973.8L1156.0 974.1L1160.0 974.4L1164.0 974.8L1168.0 975.1L1172.0 975.5L1176.0 975.8L1180.0 976.2L1184.0 976.5L1188.0 976.8L1192.0 977.2L1196.0 977.5L1200.0 977.9L1204.0 978.2L1208.0 978.6L1212.0 978.9L1216.0 979.3L1220.0 979.6L1224.0 980.0L1228.0 980.3L1230.0 980.5L1232.0 980.7L1236.0 981.1L1240.0 981.4L1244.0 981.8L1248.0 982.1L1252.0 982.5L1256.0 982.8L1260.0 983.2L1264.0 983.6L1268.0 983.9L1272.0 984.3L1276.0 984.7L1280.0 985.0L1284.0 985.4L1288.0 985.8L1292.0 986.1L1296.0 986.5L1300.0 986.9L1304.0 987.3L1308.0 987.6L1312.0 988.0L1316.0 988.4L1320.0 988.8L1324.0 989.1L1328.0 989.5L1332.0 989.9L1336.0 990.3L1340.0 990.7L1344.0 991.1L1348.0 991.4L1352.0 991.8L1356.0 992.2L1360.0 992.6L1364.0 993.0L1368.0 993.4L1372.0 993.8L1376.0 994.2L1380.0 994.6L1384.0 995.0L1388.0 995.4L1392.0 995.8L1396.0 996.2L1400.0 996.6L1404.0 997.0L1408.0 997.4L1412.0 997.8L1416.0 998.2L1420.0 998.6L1424.0 999.0L1428.0 999.4L1432.0 999.8L1436.0 1000.2L1440.0 1000.7L1444.0 1001.1L1448.0 1001.5L1450.0 1001.7L1452.0 1001.9L1456.0 1002.3L1460.0 1002.8L1464.0 1003.2L1468.0 1003.6L1472.0 1004.0L1476.0 1004.5L1480.0 1004.9L1484.0 1005.3L1488.0 1005.7L1492.0 1006.2L1496.0 1006.6L1500.0 1007.1L1504.0 1007.5L1508.0 1007.9L1512.0 1008.4L1516.0 1008.8L1520.0 1009.3L1524.0 1009.7L1528.0 1010.2L1532.0 1010.6L1536.0 1011.1L1540.0 1011.5L1544.0 1012.0L1548.0 1012.4L1552.0 1012.9L1556.0 1013.3L1560.0 1013.8L1564.0 1014.3L1568.0 1014.7L1572.0 1015.2L1576.0 1015.7L1580.0 1016.1L1584.0 1016.6L1588.0 1017.0L1592.0 1017.5L1596.0 1018.0L1600.0 1018.5L1604.0 1018.9L1608.0 1019.4L1612.0 1019.9L1616.0 1020.4L1620.0 1020.8L1624.0 1021.3L1628.0 1021.8L1632.0 1022.3L1636.0 1022.8L1640.0 1023.3L1644.0 1023.8L1648.0 1024.3L1652.0 1024.8L1656.0 1025.3L1660.0 1025.9L1664.0 1026.4L1668.0 1026.9L1670.0 1027.2L1672.0 1027.5L1676.0 1028.0L1680.0 1028.5L1684.0 1029.1L1688.0 1029.6L1692.0 1030.2L1696.0 1030.7L1700.0 1031.3L1704.0 1031.9L1708.0 1032.5L1712.0 1033.1L1716.0 1033.7L1720.0 1034.4L1724.0 1035.0L1726.3 1035.4L1728.0 1035.7L1732.0 1036.4L1736.0 1037.1L1740.0 1037.9L1744.0 1038.7L1748.0 1039.5L1752.0 1040.3L1756.0 1041.2L1760.0 1042.1L1763.3 1042.8L1764.0 1043.0L1768.0 1043.8L1772.0 1044.7L1776.0 1045.6L1780.0 1046.6L1784.0 1047.6L1788.0 1048.7L1792.0 1049.9L1793.0 1050.2L1796.0 1051.2L1800.0 1052.7L1804.0 1054.4L1807.8 1056.4L1808.0 1056.5L1812.0 1059.1L1816.0 1062.5L1820.0 1067.4L1820.1 1067.5L1824.0 1077.0L1827.5 1091.0L1828.0 1093.7L1831.2 1118.1L1832.0 1124.1L1836.0 1153.8L1836.2 1155.2L1840.0 1180.1L1840.4 1182.3L1843.6 1197.2L1844.0 1198.6L1848.0 1210.6L1851.0 1216.9L1852.0 1218.5L1856.0 1223.8L1860.0 1227.7L1862.1 1229.3L1864.0 1230.5L1868.0 1232.6L1872.0 1234.4L1876.0 1235.9L1876.9 1236.2L1880.0 1237.3L1884.0 1238.5L1888.0 1239.6L1892.0 1240.7L1896.0 1241.7L1900.0 1242.6L1904.0 1243.6L1904.1 1243.6L1908.0 1244.5L1912.0 1245.4L1916.0 1246.3L1920.0 1247.1L1924.0 1248.0L1928.0 1248.8L1932.0 1249.6L1936.0 1250.3L1940.0 1251.1L1944.0 1251.9L1948.0 1252.6L1948.5 1252.7L1952.0 1253.3L1956.0 1254.1L1960.0 1254.8L1964.0 1255.4L1968.0 1256.1L1972.0 1256.8L1976.0 1257.4L1980.0 1258.0L1984.0 1258.7L1988.0 1259.3L1992.0 1259.9L1996.0 1260.6L2000.0 1261.2L2004.0 1261.9L2008.0 1262.5L2012.0 1263.2L2016.0 1263.8L2020.0 1264.5L2024.0 1265.2L2028.0 1265.9L2030.0 1266.3L2032.0 1266.7L2036.0 1267.4L2040.0 1268.2L2044.0 1269.0L2048.0 1269.8L2052.0 1270.6L2056.0 1271.4L2060.0 1272.2L2064.0 1273.0L2068.0 1273.8L2072.0 1274.7L2076.0 1275.5L2080.0 1276.4L2084.0 1277.2L2088.0 1278.1L2092.0 1278.9L2096.0 1279.8L2100.0 1280.6L2104.0 1281.5L2108.0 1282.4L2111.0 1283.0L2112.0 1283.2L2116.0 1284.1L2120.0 1284.9L2124.0 1285.8L2128.0 1286.6L2132.0 1287.5L2136.0 1288.4L2140.0 1289.2L2144.0 1290.1L2148.0 1291.0L2152.0 1291.8L2156.0 1292.7L2160.0 1293.6L2164.0 1294.5L2168.0 1295.4L2172.0 1296.2L2176.0 1297.1L2180.0 1298.0L2184.0 1298.9L2188.0 1299.8L2192.0 1300.7L2196.0 1301.6L2200.0 1302.5L2204.0 1303.4L2208.0 1304.3L2212.0 1305.2L2216.0 1306.1L2220.0 1307.0L2224.0 1307.9L2228.0 1308.8L2232.0 1309.7L2236.0 1310.6L2240.0 1311.6L2241.9 1312.0L2244.0 1312.5L2248.0 1313.4L2252.0 1314.3L2256.0 1315.3L2260.0 1316.2L2264.0 1317.1L2268.0 1318.1L2272.0 1319.0L2276.0 1319.9L2280.0 1320.9L2284.0 1321.8L2288.0 1322.8L2292.0 1323.7L2296.0 1324.7L2300.0 1325.6L2304.0 1326.6L2308.0 1327.6L2312.0 1328.5L2316.0 1329.5L2320.0 1330.5L2324.0 1331.4L2328.0 1332.4L2332.0 1333.4L2336.0 1334.4L2340.0 1335.3L2344.0 1336.3L2348.0 1337.3L2352.0 1338.3L2356.0 1339.3L2360.0 1340.3L2363.0 1341.0"/><path stroke="#52AB16" d="M240.0 921.4L244.0 921.5L248.0 921.6L252.0 921.7L256.0 921.9L260.0 922.0L264.0 922.1L268.0 922.2L272.0 922.3L276.0 922.5L280.0 922.6L284.0 922.7L288.0 922.8L292.0 923.0L296.0 923.1L300.0 923.2L304.0 923.4L308.0 923.5L312.0 923.6L316.0 923.8L320.0 923.9L324.0 924.0L328.0 924.2L332.0 924.3L336.0 924.5L340.0 924.6L344.0 924.8L348.0 924.9L350.0 925.0L352.0 925.1L356.0 925.2L360.0 925.4L364.0 925.5L368.0 925.7L372.0 925.8L376.0 926.0L380.0 926.1L384.0 926.3L388.0 926.5L392.0 926.6L396.0 926.8L400.0 927.0L404.0 927.1L408.0 927.3L412.0 927.5L416.0 927.6L420.0 927.8L424.0 928.0L428.0 928.2L432.0 928.4L436.0 928.5L440.0 928.7L444.0 928.9L448.0 929.1L452.0 929.3L456.0 929.4L460.0 929.6L464.0 929.8L468.0 930.0L472.0 930.2L476.0 930.4L480.0 930.6L484.0 930.7L488.0 930.9L492.0 931.1L496.0 931.3L500.0 931.5L504.0 931.7L508.0 931.9L512.0 932.1L516.0 932.3L520.0 932.5L524.0 932.7L528.0 932.9L532.0 933.1L536.0 933.3L540.0 933.6L544.0 933.8L548.0 934.0L552.0 934.2L556.0 934.4L560.0 934.6L564.0 934.8L568.0 935.0L570.0 935.1L572.0 935.2L576.0 935.5L580.0 935.7L584.0 935.9L588.0 936.1L592.0 936.3L596.0 936.5L600.0 936.8L604.0 937.0L608.0 937.2L612.0 937.4L616.0 937.7L620.0 937.9L624.0 938.1L628.0 938.3L632.0 938.6L636.0 938.8L640.0 939.0L644.0 939.3L648.0 939.5L652.0 939.7L656.0 940.0L660.0 940.2L664.0 940.4L668.0 940.7L672.0 940.9L676.0 941.1L680.0 941.4L684.0 941.6L688.0 941.8L692.0 942.1L696.0 942.3L700.0 942.6L704.0 942.8L708.0 943.1L712.0 943.3L716.0 943.5L720.0 943.8L724.0 944.0L728.0 944.3L732.0 944.5L736.0 944.8L740.0 945.0L744.0 945.3L748.0 945.5L752.0 945.8L756.0 946.0L760.0 946.3L764.0 946.6L768.0 946.8L772.0 947.1L776.0 947.3L780.0 947.6L784.0 947.8L788.0 948.1L790.0 948.2L792.0 948.3L796.0 948.6L800.0 948.9L804.0 949.1L808.0 949.4L812.0 949.7L816.0 949.9L820.0 950.2L824.0 950.5L828.0 950.7L832.0 951.0L836.0 951.3L840.0 951.5L844.0 951.8L848.0 952.1L852.0 952.3L856.0 952.6L860.0 952.9L864.0 953.1L868.0 953.4L872.0 953.7L876.0 954.0L880.0 954.2L884.0 954.5L888.0 954.8L892.0 955.1L896.0 955.4L900.0 955.6L904.0 955.9L908.0 956.2L912.0 956.5L916.0 956.8L920.0 957.0L924.0 957.3L928.0 957.6L932.0 957.9L936.0 958.2L940.0 958.5L944.0 958.7L948.0 959.0L952.0 959.3L956.0 959.6L960.0 959.9L964.0 960.2L968.0 960.5L972.0 960.8L976.0 961.1L980.0 961.4L984.0 961.7L988.0 961.9L992.0 962.2L996.0 962.5L1000.0 962.8L1004.0 963.1L1008.0 963.4L1010.0 963.6L1012.0 963.7L1016.0 964.0L1020.0 964.3L1024.0 964.6L1028.0 964.9L1032.0 965.2L1036.0 965.5L1040.0 965.8L1044.0 966.2L1048.0 966.5L1052.0 966.8L1056.0 967.1L1060.0 967.4L1064.0 967.7L1068.0 968.0L1072.0 968.3L1076.0 968.6L1080.0 968.9L1084.0 969.3L1088.0 969.6L1092.0 969.9L1096.0 970.2L1100.0 970.5L1104.0 970.8L1108.0 971.1L1112.0 971.5L1116.0 971.8L1120.0 972.1L1124.0 972.4L1128.0 972.8L1132.0 973.1L1136.0 973.4L1140.0 973.7L1144.0 974.1L1148.0 974.4L1152.0 974.7L1156.0 975.0L1160.0 975.4L1164.0 975.7L1168.0 976.0L1172.0 976.4L1176.0 976.7L1180.0 977.0L1184.0 977.4L1188.0 977.7L1192.0 978.0L1196.0 978.4L1200.0 978.7L1204.0 979.0L1208.0 979.4L1212.0 979.7L1216.0 980.1L1220.0 980.4L1224.0 980.8L1228.0 981.1L1230.0 981.3L1232.0 981.4L1236.0 981.8L1240.0 982.1L1244.0 982.5L1248.0 982.8L1252.0 983.2L1256.0 983.5L1260.0 983.9L1264.0 984.2L1268.0 984.6L1272.0 985.0L1276.0 985.3L1280.0 985.7L1284.0 986.0L1288.0 986.4L1292.0 986.8L1296.0 987.1L1300.0 987.5L1304.0 987.9L1308.0 988.2L1312.0 988.6L1316.0 989.0L1320.0 989.3L1324.0 989.7L1328.0 990.1L1332.0 990.4L1336.0 990.8L1340.0 991.2L1344.0 991.6L1348.0 991.9L1352.0 992.3L1356.0 992.7L1360.0 993.1L1364.0 993.5L1368.0 993.9L1372.0 994.2L1376.0 994.6L1380.0 995.0L1384.0 995.4L1388.0 995.8L1392.0 996.2L1396.0 996.6L1400.0 997.0L1404.0 997.4L1408.0 997.8L1412.0 998.2L1416.0 998.6L1420.0 999.0L1424.0 999.4L1428.0 999.8L1432.0 1000.2L1436.0 1000.6L1440.0 1001.0L1444.0 1001.4L1448.0 1001.8L1450.0 1002.0L1452.0 1002.2L1456.0 1002.6L1460.0 1003.1L1464.0 1003.5L1468.0 1003.9L1472.0 1004.3L1476.0 1004.7L1480.0 1005.2L1484.0 1005.6L1488.0 1006.0L1492.0 1006.4L1496.0 1006.9L1500.0 1007.3L1504.0 1007.7L1508.0 1008.2L1512.0 1008.6L1516.0 1009.0L1520.0 1009.5L1524.0 1009.9L1528.0 1010.4L1532.0 1010.8L1536.0 1011.2L1540.0 1011.7L1544.0 1012.1L1548.0 1012.6L1552.0 1013.0L1556.0 1013.5L1560.0 1014.0L1564.0 1014.4L1568.0 1014.9L1572.0 1015.3L1576.0 1015.8L1580.0 1016.2L1584.0 1016.6L1588.0 1017.1L1592.0 1017.5L1596.0 1018.0L1600.0 1018.4L1604.0 1018.9L1608.0 1019.3L1612.0 1019.8L1616.0 1020.2L1620.0 1020.7L1624.0 1021.2L1628.0 1021.6L1632.0 1022.1L1636.0 1022.6L1640.0 1023.1L1644.0 1023.6L1648.0 1024.2L1652.0 1024.7L1656.0 1025.2L1660.0 1025.8L1664.0 1026.4L1668.0 1027.0L1670.0 1027.3L1672.0 1027.6L1676.0 1028.2L1680.0 1028.8L1684.0 1029.5L1688.0 1030.2L1692.0 1031.0L1696.0 1031.8L1700.0 1032.6L1701.6 1033.0L1704.0 1033.6L1708.0 1034.6L1712.0 1035.7L1716.0 1036.9L1718.9 1037.9L1720.0 1038.3L1724.0 1039.7L1728.0 1041.6L1730.0 1042.8L1732.0 1044.5L1736.0 1049.9L1736.2 1050.2L1739.9 1060.1L1740.0 1060.6L1742.3 1081.1L1744.0 1098.9L1744.8 1108.3L1747.3 1142.8L1748.0 1153.3L1749.8 1179.9L1751.5 1199.6L1752.0 1202.2L1754.7 1210.7L1756.0 1213.3L1759.6 1218.1L1760.0 1218.5L1764.0 1221.8L1768.0 1224.2L1768.3 1224.3L1772.0 1225.8L1776.0 1227.0L1780.0 1228.1L1783.1 1228.8L1784.0 1229.0L1788.0 1229.9L1792.0 1230.7L1796.0 1231.4L1800.0 1232.1L1800.4 1232.2L1804.0 1232.8L1808.0 1233.5L1812.0 1234.1L1816.0 1234.7L1820.0 1235.3L1824.0 1235.8L1828.0 1236.4L1832.0 1237.0L1836.0 1237.5L1840.0 1238.1L1844.0 1238.7L1848.0 1239.3L1849.8 1239.6L1852.0 1240.0L1856.0 1240.6L1860.0 1241.3L1864.0 1242.0L1868.0 1242.7L1872.0 1243.4L1876.0 1244.1L1880.0 1244.8L1884.0 1245.5L1888.0 1246.2L1892.0 1246.9L1896.0 1247.6L1900.0 1248.3L1904.0 1249.0L1904.1 1249.0L1908.0 1249.6L1912.0 1250.3L1916.0 1251.0L1920.0 1251.6L1924.0 1252.2L1928.0 1252.9L1932.0 1253.5L1936.0 1254.1L1940.0 1254.8L1944.0 1255.4L1948.0 1256.0L1952.0 1256.7L1956.0 1257.3L1960.0 1257.9L1964.0 1258.6L1968.0 1259.2L1972.0 1259.9L1973.2 1260.1L1976.0 1260.6L1980.0 1261.2L1984.0 1261.9L1988.0 1262.6L1992.0 1263.3L1996.0 1263.9L2000.0 1264.6L2004.0 1265.3L2008.0 1266.0L2012.0 1266.7L2016.0 1267.4L2020.0 1268.2L2024.0 1268.9L2028.0 1269.6L2030.0 1270.0L2032.0 1270.4L2036.0 1271.1L2040.0 1271.9L2044.0 1272.7L2048.0 1273.5L2052.0 1274.3L2056.0 1275.1L2060.0 1276.0L2064.0 1276.8L2068.0 1277.6L2072.0 1278.5L2076.0 1279.3L2080.0 1280.2L2084.0 1281.0L2088.0 1281.9L2092.0 1282.7L2096.0 1283.6L2100.0 1284.4L2104.0 1285.2L2108.0 1286.1L2111.0 1286.7L2112.0 1286.9L2116.0 1287.7L2120.0 1288.6L2124.0 1289.4L2128.0 1290.2L2132.0 1291.0L2136.0 1291.8L2140.0 1292.6L2144.0 1293.5L2148.0 1294.3L2152.0 1295.1L2156.0 1295.9L2160.0 1296.7L2164.0 1297.5L2168.0 1298.3L2172.0 1299.2L2176.0 1300.0L2180.0 1300.8L2184.0 1301.6L2188.0 1302.4L2192.0 1303.3L2196.0 1304.1L2200.0 1304.9L2204.0 1305.8L2208.0 1306.6L2212.0 1307.5L2216.0 1308.3L2220.0 1309.2L2224.0 1310.1L2228.0 1310.9L2232.0 1311.8L2236.0 1312.7L2240.0 1313.6L2241.9 1314.0L2244.0 1314.5L2248.0 1315.4L2252.0 1316.3L2256.0 1317.2L2260.0 1318.1L2264.0 1319.0L2268.0 1320.0L2272.0 1320.9L2276.0 1321.8L2280.0 1322.8L2284.0 1323.7L2288.0 1324.7L2292.0 1325.7L2296.0 1326.6L2300.0 1327.6L2304.0 1328.6L2308.0 1329.5L2312.0 1330.5L2316.0 1331.5L2320.0 1332.5L2324.0 1333.5L2328.0 1334.5L2332.0 1335.5L2336.0 1336.5L2340.0 1337.5L2344.0 1338.5L2348.0 1339.5L2352.0 1340.6L2356.0 1341.6L2360.0 1342.6L2363.0 1343.4"/></g>
<g fill="none" stroke-width="5.9" stroke-linejoin="round" stroke-linecap="round"><path stroke="#0072BD" d="M240.0 222.8L244.0 223.6L248.0 224.4L252.0 225.1L256.0 225.9L260.0 226.6L264.0 227.4L268.0 228.1L272.0 228.9L276.0 229.6L280.0 230.4L284.0 231.1L288.0 231.8L292.0 232.6L296.0 233.3L300.0 234.0L304.0 234.8L308.0 235.5L312.0 236.2L316.0 236.9L320.0 237.6L324.0 238.3L325.0 238.5L328.0 239.0L332.0 239.7L336.0 240.4L340.0 241.1L344.0 241.8L348.0 242.5L352.0 243.2L356.0 243.9L360.0 244.6L364.0 245.2L368.0 245.9L372.0 246.6L376.0 247.3L380.0 247.9L384.0 248.6L388.0 249.3L392.0 249.9L396.0 250.6L400.0 251.2L404.0 251.9L408.0 252.5L410.0 252.9L412.0 253.2L416.0 253.8L420.0 254.5L424.0 255.1L428.0 255.8L432.0 256.4L436.0 257.1L440.0 257.7L444.0 258.3L448.0 259.0L452.0 259.6L456.0 260.2L460.0 260.9L464.0 261.5L468.0 262.1L472.0 262.7L476.0 263.4L480.0 264.0L484.0 264.6L488.0 265.2L492.0 265.8L495.0 266.3L496.0 266.4L500.0 267.1L504.0 267.7L508.0 268.3L512.0 268.9L516.0 269.5L520.0 270.1L524.0 270.7L528.0 271.3L532.0 271.9L536.0 272.5L540.0 273.1L544.0 273.7L548.0 274.3L552.0 274.9L556.0 275.5L560.0 276.1L564.0 276.7L568.0 277.3L572.0 277.9L576.0 278.4L580.0 279.0L584.0 279.6L588.0 280.2L592.0 280.8L596.0 281.4L600.0 282.0L604.0 282.5L608.0 283.1L612.0 283.7L616.0 284.3L620.0 284.9L624.0 285.4L628.0 286.0L632.0 286.6L636.0 287.2L640.0 287.7L644.0 288.3L648.0 288.9L652.0 289.5L656.0 290.0L660.0 290.6L664.0 291.2L665.0 291.3L668.0 291.8L672.0 292.3L676.0 292.9L680.0 293.5L684.0 294.0L688.0 294.6L692.0 295.2L696.0 295.7L700.0 296.3L704.0 296.9L708.0 297.4L712.0 298.0L716.0 298.6L720.0 299.1L724.0 299.7L728.0 300.3L732.0 300.8L736.0 301.4L740.0 302.0L744.0 302.5L748.0 303.1L750.0 303.4L752.0 303.7L756.0 304.2L760.0 304.8L764.0 305.4L768.0 305.9L772.0 306.5L776.0 307.0L780.0 307.6L784.0 308.2L788.0 308.7L792.0 309.3L796.0 309.9L800.0 310.4L804.0 311.0L808.0 311.5L812.0 312.1L816.0 312.7L820.0 313.2L824.0 313.8L828.0 314.4L832.0 314.9L835.0 315.3L836.0 315.5L840.0 316.0L844.0 316.6L848.0 317.2L852.0 317.7L856.0 318.3L860.0 318.9L864.0 319.4L868.0 320.0L872.0 320.5L876.0 321.1L880.0 321.7L884.0 322.2L888.0 322.8L892.0 323.4L896.0 323.9L900.0 324.5L904.0 325.1L908.0 325.6L912.0 326.2L916.0 326.8L920.0 327.3L924.0 327.9L928.0 328.5L932.0 329.0L936.0 329.6L940.0 330.1L944.0 330.7L948.0 331.3L952.0 331.8L956.0 332.4L960.0 333.0L964.0 333.5L968.0 334.1L972.0 334.7L976.0 335.2L980.0 335.8L984.0 336.4L988.0 337.0L992.0 337.5L996.0 338.1L1000.0 338.7L1004.0 339.2L1005.0 339.4L1008.0 339.8L1012.0 340.4L1016.0 340.9L1020.0 341.5L1024.0 342.1L1028.0 342.6L1032.0 343.2L1036.0 343.8L1040.0 344.4L1044.0 344.9L1048.0 345.5L1052.0 346.1L1056.0 346.7L1060.0 347.2L1064.0 347.8L1068.0 348.4L1072.0 348.9L1076.0 349.5L1080.0 350.1L1084.0 350.7L1088.0 351.2L1090.0 351.5L1092.0 351.8L1096.0 352.4L1100.0 353.0L1104.0 353.5L1108.0 354.1L1112.0 354.7L1116.0 355.3L1120.0 355.8L1124.0 356.4L1128.0 357.0L1132.0 357.6L1136.0 358.1L1140.0 358.7L1144.0 359.3L1148.0 359.9L1152.0 360.4L1156.0 361.0L1160.0 361.6L1164.0 362.2L1168.0 362.7L1172.0 363.3L1175.0 363.7L1176.0 363.9L1180.0 364.5L1184.0 365.0L1188.0 365.6L1192.0 366.2L1196.0 366.8L1200.0 367.3L1204.0 367.9L1208.0 368.5L1212.0 369.1L1216.0 369.6L1220.0 370.2L1224.0 370.8L1228.0 371.4L1232.0 371.9L1236.0 372.5L1240.0 373.1L1244.0 373.7L1248.0 374.2L1252.0 374.8L1256.0 375.4L1260.0 376.0L1264.0 376.5L1268.0 377.1L1272.0 377.7L1276.0 378.3L1280.0 378.8L1284.0 379.4L1288.0 380.0L1292.0 380.6L1296.0 381.1L1300.0 381.7L1304.0 382.3L1308.0 382.8L1312.0 383.4L1316.0 384.0L1320.0 384.6L1324.0 385.1L1328.0 385.7L1332.0 386.3L1336.0 386.8L1340.0 387.4L1344.0 388.0L1345.0 388.1L1348.0 388.5L1352.0 389.1L1356.0 389.6L1360.0 390.2L1364.0 390.8L1368.0 391.3L1372.0 391.9L1376.0 392.4L1380.0 393.0L1384.0 393.6L1388.0 394.1L1392.0 394.7L1396.0 395.2L1400.0 395.8L1404.0 396.3L1408.0 396.9L1412.0 397.4L1416.0 398.0L1420.0 398.6L1424.0 399.1L1428.0 399.7L1430.0 400.0L1432.0 400.3L1436.0 400.8L1440.0 401.4L1444.0 402.0L1448.0 402.5L1452.0 403.1L1456.0 403.7L1460.0 404.3L1464.0 404.9L1468.0 405.4L1472.0 406.0L1476.0 406.6L1480.0 407.2L1484.0 407.8L1488.0 408.3L1492.0 408.9L1496.0 409.5L1500.0 410.1L1504.0 410.6L1508.0 411.2L1512.0 411.8L1516.0 412.3L1520.0 412.9L1524.0 413.4L1528.0 413.9L1529.2 414.1L1532.0 414.5L1536.0 415.0L1540.0 415.5L1544.0 416.1L1548.0 416.6L1552.0 417.1L1556.0 417.7L1560.0 418.2L1564.0 418.7L1568.0 419.2L1572.0 419.7L1576.0 420.2L1580.0 420.8L1584.0 421.3L1588.0 421.8L1592.0 422.3L1596.0 422.8L1600.0 423.2L1604.0 423.7L1608.0 424.2L1612.0 424.7L1616.0 425.1L1620.0 425.6L1624.0 426.0L1628.0 426.5L1628.4 426.5L1632.0 426.9L1636.0 427.3L1640.0 427.7L1644.0 428.1L1648.0 428.5L1652.0 428.9L1656.0 429.3L1660.0 429.7L1664.0 430.1L1668.0 430.5L1672.0 430.9L1676.0 431.2L1680.0 431.6L1684.0 432.0L1688.0 432.3L1692.0 432.7L1696.0 433.1L1700.0 433.4L1704.0 433.8L1708.0 434.2L1712.0 434.5L1716.0 434.9L1720.0 435.3L1724.0 435.7L1727.6 436.0L1728.0 436.0L1732.0 436.4L1736.0 436.8L1740.0 437.2L1744.0 437.6L1748.0 438.0L1752.0 438.4L1756.0 438.8L1760.0 439.2L1764.0 439.6L1768.0 439.9L1772.0 440.3L1776.0 440.6L1780.0 440.9L1784.0 441.2L1788.0 441.5L1792.0 441.8L1796.0 442.1L1800.0 442.4L1804.0 442.7L1808.0 442.9L1812.0 443.2L1816.0 443.4L1820.0 443.7L1824.0 443.9L1828.0 444.1L1832.0 444.3L1836.0 444.5L1839.5 444.6L1840.0 444.6L1844.0 444.8L1848.0 444.9L1852.0 445.1L1856.0 445.2L1860.0 445.3L1864.0 445.5L1868.0 445.6L1872.0 445.7L1876.0 445.8L1880.0 445.9L1884.0 446.0L1888.0 446.0L1892.0 446.1L1896.0 446.1L1899.0 446.1L1900.0 446.1L1904.0 446.1L1908.0 446.0L1912.0 445.9L1916.0 445.8L1920.0 445.7L1924.0 445.5L1928.0 445.4L1932.0 445.2L1936.0 445.0L1940.0 444.8L1943.7 444.6L1944.0 444.6L1948.0 444.3L1952.0 444.0L1956.0 443.6L1960.0 443.2L1964.0 442.7L1968.0 442.1L1972.0 441.6L1976.0 441.0L1980.0 440.5L1984.0 440.0L1988.0 439.4L1988.3 439.4L1992.0 439.0L1996.0 438.5L2000.0 438.0L2004.0 437.6L2008.0 437.1L2012.0 436.6L2016.0 436.1L2020.0 435.6L2024.0 434.9L2028.0 434.3L2030.0 433.9L2032.0 433.5L2036.0 432.6L2040.0 431.5L2044.0 430.3L2048.0 429.0L2052.0 427.6L2056.0 426.1L2059.8 424.7L2060.0 424.6L2064.0 423.1L2068.0 421.4L2072.0 419.7L2076.0 417.8L2080.0 415.8L2084.0 413.8L2087.6 411.8L2088.0 411.6L2092.0 409.2L2096.0 406.7L2100.0 404.0L2104.0 401.1L2108.0 398.2L2112.0 395.0L2112.3 394.8L2127.7 382.5L2144.2 379.1L2160.7 388.6L2174.0 404.1L2194.6 428.8L2198.6 433.7L2202.6 438.5L2206.6 443.1L2210.6 447.7L2214.6 452.1L2218.6 456.5L2222.6 460.7L2225.5 463.7L2226.6 464.8L2230.6 468.8L2234.6 472.8L2238.6 476.6L2242.6 480.3L2246.6 483.8L2249.1 486.0L2250.6 487.3L2254.6 490.6L2258.6 493.8L2262.6 497.0L2266.6 500.0L2270.6 503.0L2273.8 505.4L2274.6 506.0L2278.6 508.9L2282.6 511.8L2286.6 514.6L2290.6 517.3L2294.6 520.1L2298.5 522.7L2298.6 522.8L2302.6 525.5L2306.6 528.1L2310.6 530.8L2314.6 533.4L2318.6 536.0L2322.6 538.4L2323.2 538.8L2326.6 540.8L2330.6 543.2L2334.6 545.6L2338.6 547.9L2342.6 550.1L2346.6 552.4L2350.6 554.5L2354.6 556.7L2358.6 558.8L2362.6 560.8L2363.0 561.0"/><path stroke="#F5500A" d="M240.0 236.7L244.0 237.5L248.0 238.3L252.0 239.0L256.0 239.8L260.0 240.5L264.0 241.3L268.0 242.0L272.0 242.8L276.0 243.5L280.0 244.3L284.0 245.0L288.0 245.7L292.0 246.5L296.0 247.2L300.0 247.9L304.0 248.6L308.0 249.4L312.0 250.1L316.0 250.8L320.0 251.5L324.0 252.2L325.0 252.4L328.0 252.9L332.0 253.6L336.0 254.3L340.0 255.0L344.0 255.7L348.0 256.4L352.0 257.1L356.0 257.8L360.0 258.4L364.0 259.1L368.0 259.8L372.0 260.5L376.0 261.1L380.0 261.8L384.0 262.5L388.0 263.1L392.0 263.8L396.0 264.4L400.0 265.1L404.0 265.8L408.0 266.4L410.0 266.7L412.0 267.1L416.0 267.7L420.0 268.4L424.0 269.0L428.0 269.6L432.0 270.3L436.0 270.9L440.0 271.6L444.0 272.2L448.0 272.8L452.0 273.5L456.0 274.1L460.0 274.7L464.0 275.3L468.0 276.0L472.0 276.6L476.0 277.2L480.0 277.8L484.0 278.4L488.0 279.0L492.0 279.7L495.0 280.1L496.0 280.3L500.0 280.9L504.0 281.5L508.0 282.1L512.0 282.7L516.0 283.3L520.0 283.9L524.0 284.5L528.0 285.1L532.0 285.7L536.0 286.3L540.0 286.9L544.0 287.5L548.0 288.1L552.0 288.7L556.0 289.3L560.0 289.9L564.0 290.5L568.0 291.0L572.0 291.6L576.0 292.2L580.0 292.8L584.0 293.4L588.0 294.0L592.0 294.6L596.0 295.1L600.0 295.7L604.0 296.3L608.0 296.9L612.0 297.4L616.0 298.0L620.0 298.6L624.0 299.2L628.0 299.7L632.0 300.3L636.0 300.9L640.0 301.5L644.0 302.0L648.0 302.6L652.0 303.2L656.0 303.7L660.0 304.3L664.0 304.9L665.0 305.0L668.0 305.4L672.0 306.0L676.0 306.6L680.0 307.1L684.0 307.7L688.0 308.3L692.0 308.8L696.0 309.4L700.0 309.9L704.0 310.5L708.0 311.1L712.0 311.6L716.0 312.2L720.0 312.7L724.0 313.3L728.0 313.9L732.0 314.4L736.0 315.0L740.0 315.5L744.0 316.1L748.0 316.6L750.0 316.9L752.0 317.2L756.0 317.8L760.0 318.3L764.0 318.9L768.0 319.4L772.0 320.0L776.0 320.5L780.0 321.1L784.0 321.6L788.0 322.2L792.0 322.7L796.0 323.3L800.0 323.8L804.0 324.4L808.0 324.9L812.0 325.5L816.0 326.1L820.0 326.6L824.0 327.2L828.0 327.7L832.0 328.3L835.0 328.7L836.0 328.8L840.0 329.4L844.0 329.9L848.0 330.5L852.0 331.0L856.0 331.6L860.0 332.1L864.0 332.7L868.0 333.2L872.0 333.8L876.0 334.3L880.0 334.9L884.0 335.4L888.0 336.0L892.0 336.5L896.0 337.0L900.0 337.6L904.0 338.1L908.0 338.7L912.0 339.2L916.0 339.8L920.0 340.3L924.0 340.9L928.0 341.4L932.0 342.0L936.0 342.5L940.0 343.1L944.0 343.6L948.0 344.2L952.0 344.7L956.0 345.3L960.0 345.8L964.0 346.4L968.0 346.9L972.0 347.5L976.0 348.0L980.0 348.6L984.0 349.1L988.0 349.7L992.0 350.2L996.0 350.7L1000.0 351.3L1004.0 351.8L1005.0 352.0L1008.0 352.4L1012.0 352.9L1016.0 353.5L1020.0 354.0L1024.0 354.6L1028.0 355.1L1032.0 355.7L1036.0 356.2L1040.0 356.8L1044.0 357.3L1048.0 357.9L1052.0 358.4L1056.0 358.9L1060.0 359.5L1064.0 360.0L1068.0 360.6L1072.0 361.1L1076.0 361.7L1080.0 362.2L1084.0 362.8L1088.0 363.3L1090.0 363.6L1092.0 363.9L1096.0 364.4L1100.0 364.9L1104.0 365.5L1108.0 366.0L1112.0 366.6L1116.0 367.1L1120.0 367.7L1124.0 368.2L1128.0 368.7L1132.0 369.3L1136.0 369.8L1140.0 370.4L1144.0 370.9L1148.0 371.5L1152.0 372.0L1156.0 372.5L1160.0 373.1L1164.0 373.6L1168.0 374.2L1172.0 374.7L1175.0 375.1L1176.0 375.2L1180.0 375.8L1184.0 376.3L1188.0 376.8L1192.0 377.4L1196.0 377.9L1200.0 378.5L1204.0 379.0L1208.0 379.5L1212.0 380.1L1216.0 380.6L1220.0 381.1L1224.0 381.7L1228.0 382.2L1232.0 382.7L1236.0 383.3L1240.0 383.8L1244.0 384.3L1248.0 384.9L1252.0 385.4L1256.0 385.9L1260.0 386.4L1264.0 387.0L1268.0 387.5L1272.0 388.0L1276.0 388.5L1280.0 389.1L1284.0 389.6L1288.0 390.1L1292.0 390.6L1296.0 391.2L1300.0 391.7L1304.0 392.2L1308.0 392.7L1312.0 393.2L1316.0 393.8L1320.0 394.3L1324.0 394.8L1328.0 395.3L1332.0 395.8L1336.0 396.3L1340.0 396.8L1344.0 397.3L1345.0 397.5L1348.0 397.8L1352.0 398.3L1356.0 398.9L1360.0 399.4L1364.0 399.9L1368.0 400.4L1372.0 400.9L1376.0 401.4L1380.0 401.9L1384.0 402.4L1388.0 402.9L1392.0 403.4L1396.0 403.9L1400.0 404.4L1404.0 404.9L1408.0 405.4L1412.0 405.9L1416.0 406.4L1420.0 406.8L1424.0 407.3L1428.0 407.8L1430.0 408.0L1432.0 408.2L1436.0 408.6L1440.0 409.1L1444.0 409.5L1448.0 410.0L1452.0 410.4L1456.0 410.8L1460.0 411.2L1464.0 411.7L1468.0 412.1L1472.0 412.5L1476.0 412.9L1480.0 413.3L1484.0 413.7L1488.0 414.1L1492.0 414.5L1496.0 414.9L1500.0 415.3L1504.0 415.7L1508.0 416.1L1512.0 416.5L1516.0 416.9L1520.0 417.2L1524.0 417.6L1528.0 418.0L1529.2 418.1L1532.0 418.4L1536.0 418.8L1540.0 419.2L1544.0 419.6L1548.0 420.0L1552.0 420.4L1556.0 420.9L1560.0 421.3L1564.0 421.7L1568.0 422.1L1572.0 422.6L1576.0 423.0L1580.0 423.4L1584.0 423.8L1588.0 424.2L1592.0 424.5L1596.0 424.8L1600.0 425.2L1604.0 425.4L1608.0 425.7L1612.0 425.9L1616.0 426.1L1620.0 426.3L1624.0 426.4L1628.0 426.5L1628.4 426.5L1632.0 426.6L1636.0 426.6L1640.0 426.7L1644.0 426.7L1648.0 426.8L1652.0 426.8L1656.0 426.8L1660.0 426.9L1664.0 426.9L1668.0 426.9L1672.0 427.0L1676.0 427.0L1680.0 427.0L1684.0 427.0L1687.9 427.0L1688.0 427.0L1692.0 427.0L1696.0 426.9L1700.0 426.8L1704.0 426.7L1708.0 426.6L1712.0 426.4L1716.0 426.3L1720.0 426.2L1724.0 426.1L1727.6 426.0L1728.0 426.0L1732.0 425.9L1736.0 425.9L1740.0 425.8L1744.0 425.8L1748.0 425.8L1752.0 425.7L1756.0 425.7L1760.0 425.6L1764.0 425.6L1768.0 425.5L1772.0 425.5L1776.0 425.4L1780.0 425.3L1784.0 425.1L1788.0 424.7L1792.0 424.1L1796.0 423.4L1800.0 422.7L1804.0 421.9L1808.0 421.1L1809.8 420.8L1812.0 420.4L1816.0 419.7L1820.0 418.9L1824.0 418.1L1828.0 417.3L1832.0 416.4L1836.0 415.5L1840.0 414.5L1844.0 413.4L1847.0 412.6L1848.0 412.3L1852.0 411.1L1856.0 409.7L1860.0 408.2L1864.0 406.5L1868.0 404.8L1872.0 403.0L1875.2 401.5L1876.0 401.1L1880.0 399.1L1884.0 396.9L1888.0 394.6L1892.0 392.1L1896.0 389.4L1899.0 387.3L1900.0 386.6L1904.0 383.4L1908.0 379.9L1912.0 376.0L1913.9 373.9L1916.0 371.4L1920.0 365.9L1924.0 359.8L1924.3 359.3L1928.5 353.3L1935.6 341.4L1941.5 332.5L1946.3 323.6L1952.9 317.6L1956.4 314.2L1959.4 317.6L1963.6 323.6L1967.1 329.5L1971.9 341.4L1976.7 353.3L1979.0 359.3L1988.3 373.9L1992.3 382.3L1995.8 388.8L1996.3 389.7L2000.3 396.1L2004.3 402.0L2008.3 407.5L2012.1 412.6L2012.3 412.9L2016.3 418.1L2020.3 423.1L2024.3 427.9L2028.3 432.6L2030.0 434.5L2032.3 437.0L2036.3 441.3L2040.3 445.4L2044.3 449.4L2048.0 453.0L2048.3 453.3L2052.3 457.2L2056.3 461.0L2060.3 464.7L2064.0 468.0L2064.3 468.3L2068.3 471.6L2072.3 474.7L2076.3 477.8L2080.3 480.9L2084.3 484.1L2084.5 484.3L2088.3 487.7L2092.3 491.6L2096.3 495.4L2100.3 498.8L2101.0 499.3L2104.3 501.7L2108.3 504.5L2112.3 507.1L2116.3 509.6L2120.3 512.1L2124.3 514.4L2128.3 516.6L2132.3 518.9L2136.3 521.1L2140.3 523.3L2144.3 525.5L2148.3 527.7L2150.4 528.9L2152.3 530.0L2156.3 532.3L2160.3 534.5L2164.3 536.8L2168.3 539.1L2172.3 541.3L2176.3 543.5L2180.3 545.7L2184.3 547.9L2188.3 550.0L2192.3 552.1L2196.3 554.2L2199.8 556.0L2200.3 556.3L2204.3 558.3L2208.3 560.2L2212.3 562.2L2216.3 564.1L2220.3 566.0L2224.3 567.9L2228.3 569.8L2232.3 571.6L2236.3 573.5L2240.3 575.4L2244.3 577.2L2248.3 579.1L2249.1 579.5L2252.3 581.0L2256.3 582.9L2260.3 584.8L2264.3 586.7L2268.3 588.6L2272.3 590.5L2276.3 592.4L2280.3 594.3L2284.3 596.2L2288.3 598.1L2292.3 600.0L2296.3 602.0L2298.5 603.0L2300.3 603.9L2304.3 605.8L2308.3 607.7L2312.3 609.6L2316.3 611.5L2320.3 613.4L2324.3 615.3L2328.3 617.2L2332.3 619.1L2336.3 621.0L2340.3 622.9L2344.3 624.9L2348.3 626.8L2352.3 628.7L2356.3 630.6L2360.3 632.5L2363.0 633.8"/><path stroke="#FFAF0A" d="M240.0 242.8L244.0 243.6L248.0 244.3L252.0 245.1L256.0 245.9L260.0 246.7L264.0 247.4L268.0 248.2L272.0 248.9L276.0 249.7L280.0 250.5L284.0 251.2L288.0 252.0L292.0 252.7L296.0 253.4L300.0 254.2L304.0 254.9L308.0 255.7L312.0 256.4L316.0 257.1L320.0 257.8L324.0 258.6L325.0 258.7L328.0 259.3L332.0 260.0L336.0 260.7L340.0 261.4L344.0 262.1L348.0 262.8L352.0 263.5L356.0 264.2L360.0 264.9L364.0 265.6L368.0 266.3L372.0 267.0L376.0 267.6L380.0 268.3L384.0 269.0L388.0 269.7L392.0 270.3L396.0 271.0L400.0 271.7L404.0 272.3L408.0 273.0L410.0 273.3L412.0 273.7L416.0 274.3L420.0 275.0L424.0 275.6L428.0 276.3L432.0 276.9L436.0 277.6L440.0 278.2L444.0 278.9L448.0 279.5L452.0 280.2L456.0 280.8L460.0 281.4L464.0 282.1L468.0 282.7L472.0 283.3L476.0 284.0L480.0 284.6L484.0 285.2L488.0 285.8L492.0 286.5L495.0 286.9L496.0 287.1L500.0 287.7L504.0 288.3L508.0 288.9L512.0 289.5L516.0 290.2L520.0 290.8L524.0 291.4L528.0 292.0L532.0 292.6L536.0 293.2L540.0 293.8L544.0 294.4L548.0 295.0L552.0 295.6L556.0 296.2L560.0 296.8L564.0 297.4L568.0 298.0L572.0 298.6L576.0 299.1L580.0 299.7L584.0 300.3L588.0 300.9L592.0 301.5L596.0 302.1L600.0 302.7L604.0 303.3L608.0 303.8L612.0 304.4L616.0 305.0L620.0 305.6L624.0 306.1L628.0 306.7L632.0 307.3L636.0 307.9L640.0 308.4L644.0 309.0L648.0 309.6L652.0 310.2L656.0 310.7L660.0 311.3L664.0 311.9L665.0 312.0L668.0 312.4L672.0 313.0L676.0 313.6L680.0 314.1L684.0 314.7L688.0 315.3L692.0 315.8L696.0 316.4L700.0 317.0L704.0 317.5L708.0 318.1L712.0 318.6L716.0 319.2L720.0 319.7L724.0 320.3L728.0 320.9L732.0 321.4L736.0 322.0L740.0 322.5L744.0 323.1L748.0 323.6L750.0 323.9L752.0 324.2L756.0 324.8L760.0 325.3L764.0 325.9L768.0 326.4L772.0 327.0L776.0 327.5L780.0 328.1L784.0 328.6L788.0 329.2L792.0 329.7L796.0 330.3L800.0 330.8L804.0 331.4L808.0 331.9L812.0 332.4L816.0 333.0L820.0 333.5L824.0 334.1L828.0 334.6L832.0 335.2L835.0 335.6L836.0 335.7L840.0 336.3L844.0 336.8L848.0 337.4L852.0 337.9L856.0 338.5L860.0 339.0L864.0 339.5L868.0 340.1L872.0 340.6L876.0 341.2L880.0 341.7L884.0 342.3L888.0 342.8L892.0 343.3L896.0 343.9L900.0 344.4L904.0 345.0L908.0 345.5L912.0 346.0L916.0 346.6L920.0 347.1L924.0 347.7L928.0 348.2L932.0 348.7L936.0 349.3L940.0 349.8L944.0 350.4L948.0 350.9L952.0 351.4L956.0 352.0L960.0 352.5L964.0 353.0L968.0 353.6L972.0 354.1L976.0 354.7L980.0 355.2L984.0 355.7L988.0 356.3L992.0 356.8L996.0 357.3L1000.0 357.9L1004.0 358.4L1005.0 358.6L1008.0 359.0L1012.0 359.5L1016.0 360.0L1020.0 360.6L1024.0 361.1L1028.0 361.6L1032.0 362.2L1036.0 362.7L1040.0 363.2L1044.0 363.8L1048.0 364.3L1052.0 364.8L1056.0 365.4L1060.0 365.9L1064.0 366.4L1068.0 367.0L1072.0 367.5L1076.0 368.0L1080.0 368.6L1084.0 369.1L1088.0 369.6L1090.0 369.9L1092.0 370.2L1096.0 370.7L1100.0 371.2L1104.0 371.7L1108.0 372.3L1112.0 372.8L1116.0 373.3L1120.0 373.9L1124.0 374.4L1128.0 374.9L1132.0 375.5L1136.0 376.0L1140.0 376.5L1144.0 377.0L1148.0 377.6L1152.0 378.1L1156.0 378.6L1160.0 379.1L1164.0 379.7L1168.0 380.2L1172.0 380.7L1175.0 381.1L1176.0 381.2L1180.0 381.8L1184.0 382.3L1188.0 382.8L1192.0 383.3L1196.0 383.8L1200.0 384.4L1204.0 384.9L1208.0 385.4L1212.0 385.9L1216.0 386.4L1220.0 387.0L1224.0 387.5L1228.0 388.0L1232.0 388.5L1236.0 389.0L1240.0 389.5L1244.0 390.0L1248.0 390.6L1252.0 391.1L1256.0 391.6L1260.0 392.1L1264.0 392.6L1268.0 393.1L1272.0 393.6L1276.0 394.1L1280.0 394.6L1284.0 395.1L1288.0 395.6L1292.0 396.1L1296.0 396.7L1300.0 397.2L1304.0 397.7L1308.0 398.2L1312.0 398.7L1316.0 399.2L1320.0 399.7L1324.0 400.2L1328.0 400.7L1332.0 401.2L1336.0 401.6L1340.0 402.1L1344.0 402.6L1345.0 402.8L1348.0 403.1L1352.0 403.6L1356.0 404.1L1360.0 404.6L1364.0 405.1L1368.0 405.6L1372.0 406.1L1376.0 406.6L1380.0 407.1L1384.0 407.7L1388.0 408.1L1392.0 408.6L1396.0 409.1L1400.0 409.6L1404.0 410.1L1408.0 410.6L1412.0 411.0L1416.0 411.5L1420.0 411.9L1424.0 412.3L1428.0 412.7L1430.0 412.9L1432.0 413.1L1436.0 413.5L1440.0 413.9L1444.0 414.3L1448.0 414.6L1452.0 415.0L1456.0 415.4L1460.0 415.7L1464.0 416.1L1468.0 416.4L1472.0 416.8L1476.0 417.1L1480.0 417.4L1484.0 417.8L1488.0 418.1L1492.0 418.4L1496.0 418.7L1500.0 419.0L1504.0 419.3L1508.0 419.6L1512.0 419.9L1516.0 420.2L1520.0 420.5L1524.0 420.8L1528.0 421.0L1529.2 421.1L1532.0 421.3L1536.0 421.6L1540.0 421.8L1544.0 422.1L1548.0 422.4L1552.0 422.7L1556.0 423.0L1560.0 423.3L1564.0 423.6L1568.0 423.9L1572.0 424.2L1576.0 424.4L1580.0 424.7L1584.0 424.9L1588.0 425.2L1592.0 425.4L1596.0 425.6L1600.0 425.8L1604.0 426.0L1608.0 426.1L1612.0 426.3L1616.0 426.4L1620.0 426.4L1624.0 426.5L1628.0 426.5L1628.4 426.5L1632.0 426.5L1636.0 426.4L1640.0 426.2L1644.0 426.0L1648.0 425.8L1652.0 425.5L1656.0 425.2L1660.0 424.9L1664.0 424.6L1668.0 424.2L1672.0 423.9L1676.0 423.5L1680.0 423.1L1684.0 422.8L1687.9 422.5L1688.0 422.5L1692.0 422.2L1696.0 421.9L1700.0 421.6L1704.0 421.2L1708.0 420.9L1712.0 420.5L1716.0 420.2L1720.0 419.8L1724.0 419.4L1727.6 419.1L1728.0 419.1L1732.0 418.7L1736.0 418.3L1740.0 417.9L1744.0 417.5L1748.0 417.1L1752.0 416.6L1756.0 416.1L1760.0 415.6L1764.0 415.0L1767.3 414.5L1768.0 414.4L1772.0 413.7L1776.0 412.8L1780.0 411.9L1784.0 410.8L1788.0 409.7L1792.0 408.5L1796.0 407.3L1800.0 406.0L1804.0 404.7L1806.8 403.7L1808.0 403.3L1812.0 401.8L1816.0 400.2L1820.0 398.5L1824.0 396.7L1828.0 394.7L1832.0 392.6L1832.1 392.5L1836.0 390.2L1840.0 387.5L1844.0 384.6L1848.0 381.5L1849.9 379.9L1852.0 378.1L1856.0 374.2L1860.0 370.0L1861.8 368.0L1864.0 365.5L1868.0 360.5L1868.9 359.3L1878.5 341.4L1886.2 323.6L1895.4 305.7L1901.1 293.0L1908.2 305.7L1915.1 323.6L1921.0 341.4L1928.2 359.3L1932.2 367.7L1936.2 375.6L1937.7 378.4L1940.2 383.0L1944.2 390.2L1948.2 396.9L1952.2 403.1L1952.6 403.7L1956.2 408.7L1960.2 413.8L1964.2 418.7L1968.2 423.3L1970.5 426.0L1972.2 428.0L1976.2 432.5L1980.2 436.8L1984.2 441.1L1988.2 445.2L1991.3 448.3L1992.2 449.2L1996.2 453.0L2000.2 456.7L2004.2 460.3L2008.2 463.8L2009.2 464.7L2012.2 467.3L2016.2 470.8L2020.2 474.1L2024.2 477.4L2026.9 479.5L2028.2 480.5L2032.2 483.5L2036.2 486.5L2040.2 489.5L2044.2 492.4L2048.2 495.2L2052.2 498.0L2056.2 500.8L2060.2 503.5L2064.2 506.2L2068.2 508.8L2072.2 511.4L2076.2 514.0L2076.3 514.1L2080.2 516.6L2084.2 519.1L2088.2 521.6L2092.2 524.1L2096.2 526.5L2100.2 528.9L2104.2 531.2L2108.2 533.6L2112.2 535.9L2116.2 538.2L2120.2 540.5L2124.2 542.8L2125.7 543.7L2128.2 545.1L2132.2 547.4L2136.2 549.7L2140.2 552.0L2144.2 554.2L2148.2 556.5L2152.2 558.7L2156.2 560.9L2160.2 563.1L2164.2 565.2L2168.2 567.3L2172.2 569.4L2175.1 570.9L2176.2 571.5L2180.2 573.5L2184.2 575.4L2188.2 577.4L2192.2 579.3L2196.2 581.2L2200.2 583.1L2204.2 585.0L2208.2 586.8L2212.2 588.7L2216.2 590.5L2220.2 592.4L2224.2 594.2L2224.4 594.3L2228.2 596.1L2232.2 597.9L2236.2 599.7L2240.2 601.5L2244.2 603.3L2248.2 605.1L2252.2 606.9L2256.2 608.7L2260.2 610.5L2264.2 612.3L2268.2 614.0L2272.2 615.8L2273.8 616.5L2276.2 617.5L2280.2 619.3L2284.2 621.0L2288.2 622.7L2292.2 624.4L2296.2 626.1L2300.2 627.8L2304.2 629.5L2308.2 631.2L2312.2 632.9L2316.2 634.5L2320.2 636.2L2323.2 637.5L2324.2 637.9L2328.2 639.6L2332.2 641.3L2336.2 643.0L2340.2 644.7L2344.2 646.4L2348.2 648.1L2352.2 649.8L2356.2 651.4L2360.2 653.1L2363.0 654.3"/><path stroke="#91268F" d="M240.0 254.5L244.0 255.3L248.0 256.0L252.0 256.8L256.0 257.6L260.0 258.3L264.0 259.1L268.0 259.9L272.0 260.6L276.0 261.4L280.0 262.1L284.0 262.9L288.0 263.6L292.0 264.4L296.0 265.1L300.0 265.8L304.0 266.6L308.0 267.3L312.0 268.0L316.0 268.8L320.0 269.5L324.0 270.2L325.0 270.4L328.0 270.9L332.0 271.6L336.0 272.3L340.0 273.0L344.0 273.7L348.0 274.4L352.0 275.1L356.0 275.8L360.0 276.5L364.0 277.2L368.0 277.9L372.0 278.5L376.0 279.2L380.0 279.9L384.0 280.6L388.0 281.2L392.0 281.9L396.0 282.6L400.0 283.2L404.0 283.9L408.0 284.6L410.0 284.9L412.0 285.2L416.0 285.9L420.0 286.5L424.0 287.2L428.0 287.8L432.0 288.5L436.0 289.1L440.0 289.8L444.0 290.4L448.0 291.0L452.0 291.7L456.0 292.3L460.0 292.9L464.0 293.6L468.0 294.2L472.0 294.8L476.0 295.4L480.0 296.1L484.0 296.7L488.0 297.3L492.0 297.9L495.0 298.4L496.0 298.5L500.0 299.1L504.0 299.8L508.0 300.4L512.0 301.0L516.0 301.6L520.0 302.2L524.0 302.8L528.0 303.4L532.0 304.0L536.0 304.6L540.0 305.2L544.0 305.8L548.0 306.4L552.0 307.0L556.0 307.6L560.0 308.2L564.0 308.8L568.0 309.4L572.0 310.0L576.0 310.5L580.0 311.1L584.0 311.7L588.0 312.3L592.0 312.9L596.0 313.5L600.0 314.1L604.0 314.6L608.0 315.2L612.0 315.8L616.0 316.4L620.0 316.9L624.0 317.5L628.0 318.1L632.0 318.7L636.0 319.2L640.0 319.8L644.0 320.4L648.0 320.9L652.0 321.5L656.0 322.1L660.0 322.7L664.0 323.2L665.0 323.4L668.0 323.8L672.0 324.4L676.0 324.9L680.0 325.5L684.0 326.0L688.0 326.6L692.0 327.2L696.0 327.7L700.0 328.3L704.0 328.8L708.0 329.4L712.0 330.0L716.0 330.5L720.0 331.1L724.0 331.6L728.0 332.2L732.0 332.7L736.0 333.3L740.0 333.9L744.0 334.4L748.0 335.0L750.0 335.2L752.0 335.5L756.0 336.1L760.0 336.6L764.0 337.2L768.0 337.7L772.0 338.3L776.0 338.8L780.0 339.4L784.0 339.9L788.0 340.5L792.0 341.0L796.0 341.6L800.0 342.1L804.0 342.7L808.0 343.2L812.0 343.7L816.0 344.3L820.0 344.8L824.0 345.4L828.0 345.9L832.0 346.5L835.0 346.9L836.0 347.0L840.0 347.5L844.0 348.1L848.0 348.6L852.0 349.2L856.0 349.7L860.0 350.3L864.0 350.8L868.0 351.3L872.0 351.9L876.0 352.4L880.0 353.0L884.0 353.5L888.0 354.0L892.0 354.6L896.0 355.1L900.0 355.6L904.0 356.2L908.0 356.7L912.0 357.3L916.0 357.8L920.0 358.3L924.0 358.9L928.0 359.4L932.0 359.9L936.0 360.5L940.0 361.0L944.0 361.5L948.0 362.1L952.0 362.6L956.0 363.1L960.0 363.6L964.0 364.2L968.0 364.7L972.0 365.2L976.0 365.8L980.0 366.3L984.0 366.8L988.0 367.3L992.0 367.9L996.0 368.4L1000.0 368.9L1004.0 369.4L1005.0 369.6L1008.0 370.0L1012.0 370.5L1016.0 371.0L1020.0 371.5L1024.0 372.1L1028.0 372.6L1032.0 373.1L1036.0 373.6L1040.0 374.1L1044.0 374.7L1048.0 375.2L1052.0 375.7L1056.0 376.2L1060.0 376.7L1064.0 377.3L1068.0 377.8L1072.0 378.3L1076.0 378.8L1080.0 379.3L1084.0 379.8L1088.0 380.3L1090.0 380.6L1092.0 380.8L1096.0 381.3L1100.0 381.9L1104.0 382.4L1108.0 382.9L1112.0 383.4L1116.0 383.9L1120.0 384.4L1124.0 384.9L1128.0 385.4L1132.0 385.9L1136.0 386.4L1140.0 386.9L1144.0 387.4L1148.0 387.9L1152.0 388.4L1156.0 388.9L1160.0 389.4L1164.0 389.9L1168.0 390.4L1172.0 390.9L1175.0 391.2L1176.0 391.3L1180.0 391.8L1184.0 392.3L1188.0 392.8L1192.0 393.3L1196.0 393.8L1200.0 394.3L1204.0 394.7L1208.0 395.2L1212.0 395.7L1216.0 396.2L1220.0 396.6L1224.0 397.1L1228.0 397.6L1232.0 398.1L1236.0 398.5L1240.0 399.0L1244.0 399.5L1248.0 399.9L1252.0 400.4L1256.0 400.9L1260.0 401.3L1264.0 401.8L1268.0 402.2L1272.0 402.7L1276.0 403.1L1280.0 403.6L1284.0 404.0L1288.0 404.5L1292.0 404.9L1296.0 405.4L1300.0 405.8L1304.0 406.3L1308.0 406.7L1312.0 407.1L1316.0 407.6L1320.0 408.0L1324.0 408.4L1328.0 408.9L1332.0 409.3L1336.0 409.7L1340.0 410.1L1344.0 410.5L1345.0 410.6L1348.0 410.9L1352.0 411.4L1356.0 411.8L1360.0 412.2L1364.0 412.6L1368.0 413.0L1372.0 413.4L1376.0 413.8L1380.0 414.2L1384.0 414.6L1388.0 415.0L1392.0 415.4L1396.0 415.8L1400.0 416.2L1404.0 416.5L1408.0 416.9L1412.0 417.3L1416.0 417.7L1420.0 418.0L1424.0 418.4L1428.0 418.7L1430.0 418.9L1432.0 419.1L1436.0 419.4L1440.0 419.8L1444.0 420.1L1448.0 420.5L1452.0 420.8L1456.0 421.1L1460.0 421.5L1464.0 421.8L1468.0 422.1L1472.0 422.5L1476.0 422.8L1480.0 423.1L1484.0 423.4L1488.0 423.7L1492.0 424.0L1496.0 424.2L1500.0 424.5L1504.0 424.7L1508.0 424.9L1509.4 425.0L1512.0 425.1L1516.0 425.4L1520.0 425.6L1524.0 425.8L1528.0 426.0L1532.0 426.2L1536.0 426.4L1540.0 426.6L1544.0 426.8L1548.0 427.0L1552.0 427.1L1556.0 427.2L1560.0 427.3L1564.0 427.4L1568.0 427.4L1568.9 427.4L1572.0 427.4L1576.0 427.4L1580.0 427.4L1584.0 427.3L1588.0 427.3L1592.0 427.3L1596.0 427.2L1600.0 427.1L1604.0 427.1L1608.0 427.0L1612.0 426.9L1616.0 426.8L1620.0 426.7L1624.0 426.6L1628.0 426.5L1628.4 426.5L1632.0 426.3L1636.0 426.0L1640.0 425.6L1644.0 425.1L1648.0 424.5L1652.0 423.8L1656.0 423.1L1660.0 422.4L1664.0 421.8L1668.0 421.1L1668.1 421.1L1672.0 420.5L1676.0 419.9L1680.0 419.2L1684.0 418.6L1688.0 417.9L1692.0 417.2L1696.0 416.5L1700.0 415.7L1704.0 414.9L1707.8 414.1L1708.0 414.1L1712.0 413.2L1716.0 412.3L1720.0 411.3L1724.0 410.3L1728.0 409.2L1732.0 408.0L1736.0 406.7L1737.5 406.2L1740.0 405.3L1744.0 403.8L1748.0 402.0L1752.0 400.1L1756.0 398.1L1757.4 397.3L1760.0 395.8L1764.0 393.2L1768.0 390.3L1772.0 387.2L1776.0 384.0L1777.2 383.0L1780.0 380.7L1784.0 377.5L1788.0 374.0L1792.0 370.0L1796.0 365.5L1796.4 365.0L1800.0 359.9L1804.0 352.9L1808.0 345.0L1810.7 339.3L1819.4 321.4L1823.5 303.6L1828.8 279.8L1834.9 262.8L1838.9 279.8L1845.5 303.6L1849.2 321.4L1855.1 339.3L1859.1 353.4L1862.6 363.5L1863.1 364.7L1867.1 373.2L1871.1 380.4L1875.1 387.1L1875.2 387.3L1879.1 393.7L1883.1 399.8L1887.1 405.6L1890.1 409.6L1891.1 410.9L1895.1 415.7L1899.1 420.3L1903.1 424.7L1904.3 426.0L1907.1 429.0L1911.1 433.2L1915.1 437.4L1919.1 441.5L1921.4 443.9L1923.1 445.7L1927.1 450.1L1931.1 454.4L1935.1 458.7L1939.1 462.7L1940.5 464.0L1943.1 466.3L1947.1 469.8L1951.1 473.2L1955.1 476.5L1959.1 479.6L1963.1 482.7L1967.1 485.7L1971.1 488.6L1975.1 491.4L1977.5 493.1L1979.1 494.2L1983.1 497.0L1987.1 499.6L1991.1 502.3L1995.1 504.8L1999.1 507.3L2003.1 509.8L2007.1 512.3L2011.1 514.7L2015.1 517.1L2019.1 519.4L2023.1 521.8L2026.9 524.0L2027.1 524.1L2031.1 526.4L2035.1 528.7L2039.1 531.0L2043.1 533.2L2047.1 535.4L2051.1 537.6L2055.1 539.7L2059.1 541.9L2063.1 544.0L2067.1 546.2L2071.1 548.3L2075.1 550.5L2076.3 551.1L2079.1 552.6L2083.1 554.7L2087.1 556.9L2091.1 559.0L2095.1 561.2L2099.1 563.3L2103.1 565.4L2107.1 567.5L2111.1 569.6L2115.1 571.6L2119.1 573.7L2123.1 575.7L2125.7 577.0L2127.1 577.7L2131.1 579.7L2135.1 581.6L2139.1 583.5L2143.1 585.4L2147.1 587.3L2151.1 589.2L2155.1 591.1L2159.1 593.0L2163.1 594.8L2167.1 596.7L2171.1 598.6L2175.1 600.5L2179.1 602.4L2183.1 604.3L2187.1 606.3L2191.1 608.2L2195.1 610.2L2199.1 612.1L2203.1 614.0L2207.1 616.0L2211.1 617.9L2215.1 619.7L2219.1 621.6L2223.1 623.4L2224.4 624.0L2227.1 625.2L2231.1 627.0L2235.1 628.7L2239.1 630.4L2243.1 632.1L2247.1 633.8L2251.1 635.4L2255.1 637.1L2259.1 638.8L2263.1 640.4L2267.1 642.1L2271.1 643.8L2273.8 644.9L2275.1 645.5L2279.1 647.1L2283.1 648.8L2287.1 650.5L2291.1 652.2L2295.1 653.9L2299.1 655.6L2303.1 657.3L2307.1 659.0L2311.1 660.7L2315.1 662.4L2319.1 664.1L2323.1 665.9L2323.2 665.9L2327.1 667.6L2331.1 669.3L2335.1 671.0L2339.1 672.8L2343.1 674.5L2347.1 676.2L2351.1 678.0L2355.1 679.7L2359.1 681.5L2363.0 683.2"/><path stroke="#52AB16" d="M240.0 281.0L244.0 281.8L248.0 282.6L252.0 283.4L256.0 284.2L260.0 285.0L264.0 285.8L268.0 286.5L272.0 287.3L276.0 288.1L280.0 288.9L284.0 289.6L288.0 290.4L292.0 291.1L296.0 291.9L300.0 292.7L304.0 293.4L308.0 294.1L312.0 294.9L316.0 295.6L320.0 296.3L324.0 297.1L325.0 297.3L328.0 297.8L332.0 298.5L336.0 299.2L340.0 300.0L344.0 300.7L348.0 301.4L352.0 302.1L356.0 302.8L360.0 303.5L364.0 304.2L368.0 304.9L372.0 305.5L376.0 306.2L380.0 306.9L384.0 307.6L388.0 308.3L392.0 308.9L396.0 309.6L400.0 310.3L404.0 311.0L408.0 311.6L410.0 311.9L412.0 312.3L416.0 312.9L420.0 313.6L424.0 314.3L428.0 314.9L432.0 315.6L436.0 316.2L440.0 316.8L444.0 317.5L448.0 318.1L452.0 318.8L456.0 319.4L460.0 320.0L464.0 320.6L468.0 321.3L472.0 321.9L476.0 322.5L480.0 323.1L484.0 323.8L488.0 324.4L492.0 325.0L495.0 325.5L496.0 325.6L500.0 326.2L504.0 326.9L508.0 327.5L512.0 328.1L516.0 328.7L520.0 329.3L524.0 329.9L528.0 330.5L532.0 331.1L536.0 331.7L540.0 332.3L544.0 332.9L548.0 333.5L552.0 334.1L556.0 334.6L560.0 335.2L564.0 335.8L568.0 336.4L572.0 337.0L576.0 337.6L580.0 338.2L584.0 338.7L588.0 339.3L592.0 339.9L596.0 340.5L600.0 341.1L604.0 341.6L608.0 342.2L612.0 342.8L616.0 343.3L620.0 343.9L624.0 344.5L628.0 345.1L632.0 345.6L636.0 346.2L640.0 346.7L644.0 347.3L648.0 347.9L652.0 348.4L656.0 349.0L660.0 349.6L664.0 350.1L665.0 350.3L668.0 350.7L672.0 351.2L676.0 351.8L680.0 352.4L684.0 352.9L688.0 353.5L692.0 354.0L696.0 354.6L700.0 355.1L704.0 355.7L708.0 356.2L712.0 356.8L716.0 357.3L720.0 357.9L724.0 358.4L728.0 359.0L732.0 359.5L736.0 360.0L740.0 360.6L744.0 361.1L748.0 361.7L750.0 361.9L752.0 362.2L756.0 362.8L760.0 363.3L764.0 363.8L768.0 364.4L772.0 364.9L776.0 365.5L780.0 366.0L784.0 366.5L788.0 367.1L792.0 367.6L796.0 368.1L800.0 368.7L804.0 369.2L808.0 369.7L812.0 370.3L816.0 370.8L820.0 371.3L824.0 371.9L828.0 372.4L832.0 372.9L835.0 373.3L836.0 373.5L840.0 374.0L844.0 374.5L848.0 375.0L852.0 375.6L856.0 376.1L860.0 376.6L864.0 377.2L868.0 377.7L872.0 378.2L876.0 378.7L880.0 379.2L884.0 379.8L888.0 380.3L892.0 380.8L896.0 381.3L900.0 381.9L904.0 382.4L908.0 382.9L912.0 383.4L916.0 383.9L920.0 384.4L924.0 385.0L928.0 385.5L932.0 386.0L936.0 386.5L940.0 387.0L944.0 387.5L948.0 388.0L952.0 388.6L956.0 389.1L960.0 389.6L964.0 390.1L968.0 390.6L972.0 391.1L976.0 391.6L980.0 392.1L984.0 392.6L988.0 393.1L992.0 393.6L996.0 394.1L1000.0 394.6L1004.0 395.1L1005.0 395.2L1008.0 395.6L1012.0 396.1L1016.0 396.6L1020.0 397.1L1024.0 397.6L1028.0 398.1L1032.0 398.6L1036.0 399.1L1040.0 399.6L1044.0 400.1L1048.0 400.6L1052.0 401.1L1056.0 401.5L1060.0 402.0L1064.0 402.5L1068.0 403.0L1072.0 403.5L1076.0 404.0L1080.0 404.4L1084.0 404.9L1088.0 405.4L1090.0 405.6L1092.0 405.9L1096.0 406.4L1100.0 406.8L1104.0 407.3L1108.0 407.8L1112.0 408.2L1116.0 408.7L1120.0 409.2L1124.0 409.6L1128.0 410.1L1132.0 410.6L1136.0 411.0L1140.0 411.5L1144.0 411.9L1148.0 412.4L1152.0 412.9L1156.0 413.3L1160.0 413.8L1164.0 414.2L1168.0 414.6L1172.0 415.1L1175.0 415.4L1176.0 415.5L1180.0 416.0L1184.0 416.4L1188.0 416.8L1192.0 417.3L1196.0 417.7L1200.0 418.1L1204.0 418.6L1208.0 419.0L1212.0 419.4L1216.0 419.9L1220.0 420.3L1224.0 420.7L1228.0 421.1L1232.0 421.5L1236.0 422.0L1240.0 422.4L1244.0 422.8L1248.0 423.2L1252.0 423.6L1256.0 424.0L1260.0 424.4L1264.0 424.8L1268.0 425.1L1272.0 425.5L1276.0 425.9L1280.0 426.3L1284.0 426.7L1288.0 427.1L1292.0 427.4L1296.0 427.8L1300.0 428.2L1304.0 428.6L1308.0 428.9L1312.0 429.3L1316.0 429.6L1320.0 430.0L1324.0 430.3L1328.0 430.7L1332.0 431.0L1336.0 431.4L1340.0 431.7L1344.0 432.0L1345.0 432.1L1348.0 432.4L1352.0 432.7L1356.0 433.0L1360.0 433.4L1364.0 433.7L1368.0 434.0L1372.0 434.4L1376.0 434.7L1380.0 435.0L1384.0 435.3L1388.0 435.7L1392.0 436.0L1396.0 436.3L1400.0 436.6L1404.0 436.8L1408.0 437.1L1412.0 437.4L1416.0 437.6L1420.0 437.8L1424.0 438.0L1428.0 438.2L1430.0 438.3L1432.0 438.4L1436.0 438.5L1440.0 438.7L1444.0 438.9L1448.0 439.0L1452.0 439.2L1456.0 439.3L1460.0 439.4L1464.0 439.5L1468.0 439.5L1469.7 439.5L1472.0 439.5L1476.0 439.5L1480.0 439.5L1484.0 439.5L1488.0 439.5L1492.0 439.5L1496.0 439.5L1500.0 439.5L1504.0 439.5L1508.0 439.5L1509.4 439.5L1512.0 439.5L1516.0 439.4L1520.0 439.3L1524.0 439.2L1528.0 439.0L1532.0 438.9L1536.0 438.6L1540.0 438.4L1544.0 438.2L1548.0 438.0L1549.0 437.9L1552.0 437.7L1556.0 437.4L1560.0 437.1L1564.0 436.7L1568.0 436.2L1572.0 435.8L1576.0 435.3L1580.0 434.8L1584.0 434.2L1588.0 433.7L1588.7 433.6L1592.0 433.1L1596.0 432.6L1600.0 432.0L1604.0 431.4L1608.0 430.7L1612.0 430.0L1616.0 429.3L1620.0 428.4L1624.0 427.6L1628.0 426.6L1628.4 426.5L1632.0 425.5L1636.0 424.1L1640.0 422.5L1644.0 420.9L1648.0 419.2L1648.3 419.1L1652.0 417.6L1656.0 415.9L1660.0 414.2L1664.0 412.3L1668.0 410.3L1668.1 410.2L1672.0 407.9L1676.0 405.4L1680.0 402.5L1684.0 399.5L1687.9 396.3L1688.0 396.2L1692.0 392.7L1696.0 388.8L1700.0 384.6L1704.0 380.0L1707.8 375.4L1708.0 375.1L1712.0 369.7L1716.0 363.5L1717.7 360.6L1720.0 356.4L1724.0 348.0L1727.6 338.7L1728.0 337.5L1732.0 322.1L1733.6 314.9L1737.6 289.3L1742.1 253.6L1746.5 211.8L1749.9 253.6L1754.1 289.3L1758.5 318.9L1762.5 335.4L1766.5 350.0L1767.3 352.6L1770.5 362.6L1774.5 373.9L1777.2 380.4L1778.5 383.2L1782.5 391.0L1786.5 397.9L1788.9 402.0L1790.5 404.8L1794.5 411.4L1798.5 417.8L1799.3 419.0L1802.5 423.9L1806.5 429.8L1810.5 435.3L1814.2 440.0L1814.5 440.4L1818.5 444.9L1822.5 449.1L1826.5 453.1L1830.5 457.0L1834.5 460.7L1838.5 464.3L1841.7 467.2L1842.5 467.9L1846.5 471.5L1850.5 475.0L1854.5 478.4L1858.5 481.7L1862.5 485.0L1866.4 488.1L1866.5 488.2L1870.5 491.4L1874.5 494.5L1878.5 497.7L1882.5 500.8L1886.5 503.8L1890.5 506.8L1894.5 509.7L1898.5 512.6L1902.5 515.5L1904.0 516.5L1906.5 518.2L1910.5 520.9L1914.5 523.6L1918.5 526.3L1922.5 528.9L1926.5 531.5L1930.5 534.0L1934.5 536.5L1938.5 538.9L1942.5 541.4L1946.5 543.7L1950.5 546.1L1952.8 547.4L1954.5 548.4L1958.5 550.6L1962.5 552.8L1966.5 555.0L1970.5 557.1L1974.5 559.3L1978.5 561.3L1982.5 563.4L1986.5 565.4L1990.5 567.4L1994.5 569.5L1998.5 571.5L2002.2 573.3L2002.5 573.4L2006.5 575.4L2010.5 577.4L2014.5 579.3L2018.5 581.3L2022.5 583.2L2026.5 585.1L2030.5 587.0L2034.5 588.9L2038.5 590.7L2042.5 592.6L2046.5 594.4L2050.5 596.3L2051.6 596.8L2054.5 598.1L2058.5 600.0L2062.5 601.8L2066.5 603.6L2070.5 605.4L2074.5 607.2L2078.5 609.0L2082.5 610.8L2086.5 612.6L2090.5 614.4L2094.5 616.1L2098.5 617.9L2101.0 619.0L2102.5 619.7L2106.5 621.4L2110.5 623.1L2114.5 624.8L2118.5 626.5L2122.5 628.2L2126.5 629.8L2130.5 631.5L2134.5 633.2L2138.5 634.9L2142.5 636.6L2146.5 638.3L2150.4 640.0L2150.5 640.0L2154.5 641.8L2158.5 643.6L2162.5 645.4L2166.5 647.2L2170.5 649.0L2174.5 650.8L2178.5 652.6L2182.5 654.5L2186.5 656.3L2190.5 658.1L2194.5 659.9L2198.5 661.6L2199.8 662.2L2202.5 663.4L2206.5 665.1L2210.5 666.8L2214.5 668.5L2218.5 670.2L2222.5 671.9L2226.5 673.6L2230.5 675.3L2234.5 677.0L2238.5 678.7L2242.5 680.4L2246.5 682.1L2249.1 683.2L2250.5 683.8L2254.5 685.5L2258.5 687.2L2262.5 688.9L2266.5 690.6L2270.5 692.3L2274.5 694.0L2278.5 695.7L2282.5 697.4L2286.5 699.1L2290.5 700.8L2294.5 702.5L2298.5 704.2L2302.5 705.9L2306.5 707.6L2310.5 709.3L2314.5 711.0L2318.5 712.7L2322.5 714.3L2326.5 716.0L2330.5 717.7L2334.5 719.4L2338.5 721.1L2342.5 722.8L2346.5 724.5L2350.5 726.1L2354.5 727.8L2358.5 729.5L2362.5 731.2L2363.0 731.4"/></g>
<path d="M240.45 308.00H2358.65" fill="none" stroke="#000" stroke-width="5.7" stroke-dasharray="28.30 21.70" stroke-linecap="round"/>
<path d="M241.75 970.40H2359.85" fill="none" stroke="#000" stroke-width="5.3" stroke-dasharray="28.70 21.30" stroke-linecap="round"/>
<path d="M1904 29V742.8M1904 778.2V783M1904 795V1358.2" fill="none" stroke="#000" stroke-width="4" stroke-dasharray="14 10.97" stroke-linecap="round"/>
<rect x="240" y="401.6" width="726" height="345.4" fill="#fff" stroke="#222" stroke-width="5.6"/>
<path d="M289 443.5H481" fill="none" stroke="#0072BD" stroke-width="5.3" stroke-linecap="round"/>
<text x="498.6" y="457.8" font-size="50"><tspan class="i">L</tspan>g=0mH</text>
<path d="M289 508.9H481" fill="none" stroke="#F5500A" stroke-width="6.2" stroke-linecap="round"/>
<text x="498.6" y="525.2" font-size="50"><tspan class="i">L</tspan>g=0.8mH</text>
<path d="M289 574.5H481" fill="none" stroke="#FFAF0A" stroke-width="5.3" stroke-linecap="round"/>
<text x="498.6" y="588.6" font-size="50"><tspan class="i">L</tspan>g=1.2mH</text>
<path d="M289 639.9H481" fill="none" stroke="#91268F" stroke-width="6.2" stroke-linecap="round"/>
<text x="498.6" y="655.9" font-size="50"><tspan class="i">L</tspan>g=2mH</text>
<path d="M289 705.5H481" fill="none" stroke="#52AB16" stroke-width="5.3" stroke-linecap="round"/>
<text x="498.6" y="718.7" font-size="50"><tspan class="i">L</tspan>g=4.5mH</text>
<path d="M1852 192H1748" fill="none" stroke="#000" stroke-width="6" stroke-linecap="round"/>
<path d="M1718 192L1752 175L1748 192L1752 208Z" fill="#000"/>
<path d="M899.4 981.4L848.8 1023.3" stroke="#000" stroke-width="3.2" stroke-linecap="round"/>
<text x="134.60" y="75.25" font-size="66.67">40</text>
<text x="177.26" y="332.15" font-size="66.67">0</text>
<text x="114.40" y="735.25" font-size="66.67">-60</text>
<text x="185.96" y="844.85" font-size="66.67">0</text>
<text x="80.40" y="1340.25" font-size="66.67">-540</text>
<text x="702.40" y="1078.50" font-size="66.67">-180°</text>
<text transform="translate(74.90 0) rotate(-90)" x="-670.15 -604.96 -567.32 -521.03 -478.28 -453.24 -423.49 -382.47 -335.44 -289.39 -254.52 -210.07 -157.56" y="0" font-size="66.67" xml:space="preserve">Magnitude(dB)</text>
<text transform="translate(68.00 0) rotate(-90)" x="-1243.56 -1197.05 -1157.01 -1120.09 -1081.44 -1051.85 -1029.29 -1001.27 -962.39 -926.47 -886.61" y="0" font-size="66.67" xml:space="preserve">Phase (deg)</text>
<text y="1460.50"><tspan x="160.10" font-size="66.67">5</tspan><tspan x="260.75" font-size="66.67">1</tspan><tspan x="295.33" font-size="66.67">0</tspan></text>
<text class="lt" transform="translate(229 1438) scale(1.307 1)" x="-26.18" y="19.59" font-size="62.5">×</text>
<text y="1426.10"><tspan x="360.78" font-size="50.00">2</tspan></text>
<text x="1056.6" y="1491.4" font-size="66.67" xml:space="preserve">Frequency  (rad/s)</text>
<text y="1445.40"><tspan x="2309.80" font-size="66.67">1</tspan><tspan x="2344.78" font-size="66.67">0</tspan></text>
<text y="1396.00"><tspan x="2407.30" font-size="50.00">4</tspan></text>
<text y="1437.10"><tspan x="1849.97" font-size="66.67" class="i">f</tspan><tspan x="1871.39" font-size="50.00">r</tspan><tspan x="1885.73" font-size="73.34">=</tspan><tspan x="1922.12" font-size="66.67" class="i">f</tspan><tspan x="1943.55" font-size="50.00">s</tspan><tspan x="1962.69" font-size="66.67">/</tspan><tspan x="1981.39" font-size="66.67">6</tspan></text>
<text y="151.90"><tspan x="1755.03" font-size="66.67" class="i">L</tspan><tspan x="1791.83" font-size="33.30">g</tspan></text>
<text class="lt" transform="translate(1824.85 164.9) scale(0.772 1)" x="-32.68" y="0" font-size="78.0">↑</text>
</svg></body></html>
